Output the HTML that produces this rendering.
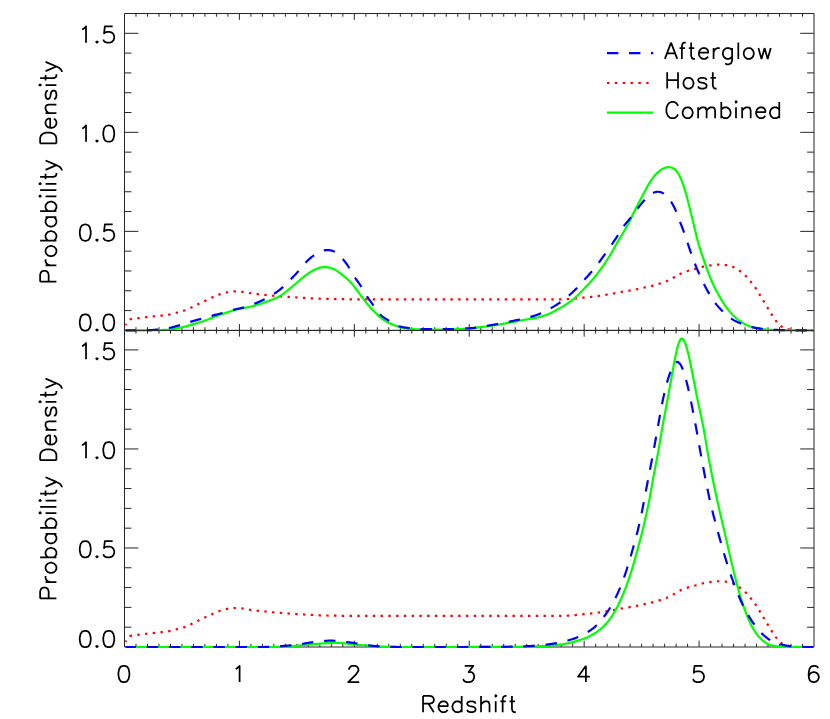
<!DOCTYPE html>
<html><head><meta charset="utf-8"><title>Redshift probability density</title>
<style>html,body{margin:0;padding:0;background:#fff;font-family:"Liberation Sans",sans-serif}svg{display:block}</style></head>
<body>
<svg width="830" height="719" viewBox="0 0 830 719">
<rect width="830" height="719" fill="#fff"/>
<path d="M124.5 13.5H814V330.4H124.5ZM135.99 13.5v3.2M135.99 330.4v-3.2M147.48 13.5v3.2M147.48 330.4v-3.2M158.97 13.5v3.2M158.97 330.4v-3.2M170.47 13.5v3.2M170.47 330.4v-3.2M181.96 13.5v3.2M181.96 330.4v-3.2M193.45 13.5v3.2M193.45 330.4v-3.2M204.94 13.5v3.2M204.94 330.4v-3.2M216.43 13.5v3.2M216.43 330.4v-3.2M227.93 13.5v3.2M227.93 330.4v-3.2M239.42 13.5v6.3M239.42 330.4v-6.3M250.91 13.5v3.2M250.91 330.4v-3.2M262.4 13.5v3.2M262.4 330.4v-3.2M273.89 13.5v3.2M273.89 330.4v-3.2M285.38 13.5v3.2M285.38 330.4v-3.2M296.88 13.5v3.2M296.88 330.4v-3.2M308.37 13.5v3.2M308.37 330.4v-3.2M319.86 13.5v3.2M319.86 330.4v-3.2M331.35 13.5v3.2M331.35 330.4v-3.2M342.84 13.5v3.2M342.84 330.4v-3.2M354.33 13.5v6.3M354.33 330.4v-6.3M365.83 13.5v3.2M365.83 330.4v-3.2M377.32 13.5v3.2M377.32 330.4v-3.2M388.81 13.5v3.2M388.81 330.4v-3.2M400.3 13.5v3.2M400.3 330.4v-3.2M411.79 13.5v3.2M411.79 330.4v-3.2M423.28 13.5v3.2M423.28 330.4v-3.2M434.78 13.5v3.2M434.78 330.4v-3.2M446.27 13.5v3.2M446.27 330.4v-3.2M457.76 13.5v3.2M457.76 330.4v-3.2M469.25 13.5v6.3M469.25 330.4v-6.3M480.74 13.5v3.2M480.74 330.4v-3.2M492.23 13.5v3.2M492.23 330.4v-3.2M503.73 13.5v3.2M503.73 330.4v-3.2M515.22 13.5v3.2M515.22 330.4v-3.2M526.71 13.5v3.2M526.71 330.4v-3.2M538.2 13.5v3.2M538.2 330.4v-3.2M549.69 13.5v3.2M549.69 330.4v-3.2M561.18 13.5v3.2M561.18 330.4v-3.2M572.67 13.5v3.2M572.67 330.4v-3.2M584.17 13.5v6.3M584.17 330.4v-6.3M595.66 13.5v3.2M595.66 330.4v-3.2M607.15 13.5v3.2M607.15 330.4v-3.2M618.64 13.5v3.2M618.64 330.4v-3.2M630.13 13.5v3.2M630.13 330.4v-3.2M641.62 13.5v3.2M641.62 330.4v-3.2M653.12 13.5v3.2M653.12 330.4v-3.2M664.61 13.5v3.2M664.61 330.4v-3.2M676.1 13.5v3.2M676.1 330.4v-3.2M687.59 13.5v3.2M687.59 330.4v-3.2M699.08 13.5v6.3M699.08 330.4v-6.3M710.57 13.5v3.2M710.57 330.4v-3.2M722.07 13.5v3.2M722.07 330.4v-3.2M733.56 13.5v3.2M733.56 330.4v-3.2M745.05 13.5v3.2M745.05 330.4v-3.2M756.54 13.5v3.2M756.54 330.4v-3.2M768.03 13.5v3.2M768.03 330.4v-3.2M779.53 13.5v3.2M779.53 330.4v-3.2M791.02 13.5v3.2M791.02 330.4v-3.2M802.51 13.5v3.2M802.51 330.4v-3.2M124.5 310.59h6.9M814 310.59h-6.9M124.5 290.79h6.9M814 290.79h-6.9M124.5 270.98h6.9M814 270.98h-6.9M124.5 251.17h6.9M814 251.17h-6.9M124.5 231.37h13.8M814 231.37h-13.8M124.5 211.56h6.9M814 211.56h-6.9M124.5 191.76h6.9M814 191.76h-6.9M124.5 171.95h6.9M814 171.95h-6.9M124.5 152.14h6.9M814 152.14h-6.9M124.5 132.34h13.8M814 132.34h-13.8M124.5 112.53h6.9M814 112.53h-6.9M124.5 92.73h6.9M814 92.73h-6.9M124.5 72.92h6.9M814 72.92h-6.9M124.5 53.11h6.9M814 53.11h-6.9M124.5 33.31h13.8M814 33.31h-13.8" fill="none" stroke="#262626" stroke-width="1.0" stroke-linecap="butt" stroke-linejoin="miter"/>
<path d="M125.65 325.12L126.51 324.07L127.37 322.87L128.23 321.65L129.1 320.53L129.96 319.65L130.82 319.14L131.68 318.95L132.54 318.78L133.41 318.64L134.27 318.52L135.13 318.44L135.99 318.36L136.85 318.28L137.72 318.2L138.58 318.1L139.44 318.01L140.3 317.9L141.16 317.79L142.02 317.67L142.89 317.56L143.75 317.45L144.61 317.34L145.47 317.23L146.33 317.13L147.2 317.04L148.06 316.94L148.92 316.86L149.78 316.77L150.64 316.68L151.51 316.6L152.37 316.51L153.23 316.43L154.09 316.34L154.95 316.26L155.81 316.17L156.68 316.08L157.54 316L158.4 315.91L159.26 315.82L160.12 315.72L160.99 315.63L161.85 315.54L162.71 315.44L163.57 315.34L164.43 315.24L165.3 315.14L166.16 315.03L167.02 314.91L167.88 314.79L168.74 314.64L169.6 314.48L170.47 314.31L171.33 314.11L172.19 313.89L173.05 313.66L173.91 313.42L174.78 313.18L175.64 312.94L176.5 312.7L177.36 312.47L178.22 312.25L179.09 312.03L179.95 311.81L180.81 311.59L181.67 311.36L182.53 311.12L183.39 310.86L184.26 310.57L185.12 310.27L185.98 309.94L186.84 309.58L187.7 309.21L188.57 308.82L189.43 308.42L190.29 308.01L191.15 307.6L192.01 307.18L192.88 306.75L193.74 306.32L194.6 305.89L195.46 305.45L196.32 305.01L197.18 304.58L198.05 304.15L198.91 303.73L199.77 303.32L200.63 302.91L201.49 302.51L202.36 302.11L203.22 301.71L204.08 301.31L204.94 300.9L205.8 300.48L206.67 300.06L207.53 299.64L208.39 299.21L209.25 298.78L210.11 298.36L210.97 297.94L211.84 297.54L212.7 297.14L213.56 296.76L214.42 296.38L215.28 296.02L216.15 295.66L217.01 295.32L217.87 294.99L218.73 294.67L219.59 294.37L220.46 294.08L221.32 293.8L222.18 293.53L223.04 293.27L223.9 293.04L224.76 292.82L225.63 292.61L226.49 292.43L227.35 292.26L228.21 292.1L229.07 291.96L229.94 291.82L230.8 291.7L231.66 291.6L232.52 291.51L233.38 291.45L234.25 291.41L235.11 291.39L235.97 291.4L236.83 291.42L237.69 291.45L238.55 291.5L239.42 291.56L240.28 291.62L241.14 291.69L242 291.78L242.86 291.89L243.73 292.02L244.59 292.16L245.45 292.32L246.31 292.49L247.17 292.67L248.04 292.84L248.9 293L249.76 293.15L250.62 293.28L251.48 293.41L252.34 293.52L253.21 293.63L254.07 293.73L254.93 293.84L255.79 293.93L256.65 294.03L257.52 294.12L258.38 294.21L259.24 294.3L260.1 294.39L260.96 294.47L261.83 294.56L262.69 294.64L263.55 294.72L264.41 294.81L265.27 294.89L266.13 294.98L267 295.07L267.86 295.17L268.72 295.26L269.58 295.36L270.44 295.45L271.31 295.55L272.17 295.63L273.03 295.72L273.89 295.8L274.75 295.88L275.62 295.95L276.48 296.02L277.34 296.09L278.2 296.16L279.06 296.23L279.92 296.29L280.79 296.36L281.65 296.42L282.51 296.48L283.37 296.55L284.23 296.61L285.1 296.67L285.96 296.73L286.82 296.79L287.68 296.85L288.54 296.91L289.41 296.97L290.27 297.03L291.13 297.09L291.99 297.14L292.85 297.2L293.71 297.26L294.58 297.32L295.44 297.37L296.3 297.43L297.16 297.48L298.02 297.54L298.89 297.59L299.75 297.65L300.61 297.7L301.47 297.75L302.33 297.8L303.2 297.85L304.06 297.9L304.92 297.95L305.78 298L306.64 298.05L307.5 298.1L308.37 298.15L309.23 298.2L310.09 298.25L310.95 298.3L311.81 298.35L312.68 298.39L313.54 298.44L314.4 298.48L315.26 298.52L316.12 298.56L316.99 298.6L317.85 298.64L318.71 298.67L319.57 298.7L320.43 298.73L321.29 298.76L322.16 298.78L323.02 298.81L323.88 298.83L324.74 298.85L325.6 298.87L326.47 298.9L327.33 298.92L328.19 298.94L329.05 298.96L329.91 298.98L330.78 298.99L331.64 299.01L332.5 299.03L333.36 299.04L334.22 299.06L335.08 299.07L335.95 299.09L336.81 299.1L337.67 299.12L338.53 299.13L339.39 299.14L340.26 299.16L341.12 299.17L341.98 299.18L342.84 299.2L343.7 299.21L344.57 299.22L345.43 299.23L346.29 299.25L347.15 299.26L348.01 299.27L348.87 299.28L349.74 299.28L350.6 299.29L351.46 299.29L352.32 299.3L353.18 299.3L354.05 299.3L354.91 299.3L355.77 299.3L356.63 299.3L357.49 299.3L358.36 299.3L359.22 299.3L360.08 299.3L360.94 299.3L361.8 299.3L362.66 299.3L363.53 299.3L364.39 299.3L365.25 299.3L366.11 299.3L366.97 299.3L367.84 299.3L368.7 299.3L369.56 299.3L370.42 299.3L371.28 299.3L372.15 299.3L373.01 299.3L373.87 299.3L374.73 299.3L375.59 299.3L376.45 299.3L377.32 299.3L378.18 299.3L379.04 299.3L379.9 299.3L380.76 299.3L381.63 299.3L382.49 299.3L383.35 299.3L384.21 299.3L385.07 299.3L385.94 299.3L386.8 299.3L387.66 299.3L388.52 299.3L389.38 299.3L390.24 299.3L391.11 299.3L391.97 299.3L392.83 299.3L393.69 299.3L394.55 299.3L395.42 299.3L396.28 299.3L397.14 299.3L398 299.3L398.86 299.3L399.73 299.3L400.59 299.3L401.45 299.3L402.31 299.3L403.17 299.3L404.03 299.3L404.9 299.3L405.76 299.3L406.62 299.3L407.48 299.3L408.34 299.3L409.21 299.3L410.07 299.3L410.93 299.3L411.79 299.3L412.65 299.3L413.52 299.3L414.38 299.3L415.24 299.3L416.1 299.3L416.96 299.3L417.82 299.3L418.69 299.3L419.55 299.3L420.41 299.3L421.27 299.3L422.13 299.3L423 299.3L423.86 299.3L424.72 299.3L425.58 299.3L426.44 299.3L427.31 299.3L428.17 299.3L429.03 299.3L429.89 299.3L430.75 299.3L431.61 299.3L432.48 299.3L433.34 299.3L434.2 299.3L435.06 299.3L435.92 299.3L436.79 299.3L437.65 299.3L438.51 299.3L439.37 299.3L440.23 299.3L441.1 299.3L441.96 299.3L442.82 299.3L443.68 299.3L444.54 299.3L445.4 299.3L446.27 299.3L447.13 299.3L447.99 299.3L448.85 299.3L449.71 299.3L450.58 299.3L451.44 299.3L452.3 299.3L453.16 299.3L454.02 299.3L454.89 299.3L455.75 299.3L456.61 299.3L457.47 299.3L458.33 299.3L459.19 299.3L460.06 299.3L460.92 299.3L461.78 299.3L462.64 299.3L463.5 299.3L464.37 299.3L465.23 299.3L466.09 299.3L466.95 299.3L467.81 299.3L468.68 299.3L469.54 299.3L470.4 299.3L471.26 299.3L472.12 299.3L472.98 299.3L473.85 299.3L474.71 299.3L475.57 299.3L476.43 299.3L477.29 299.3L478.16 299.3L479.02 299.3L479.88 299.3L480.74 299.3L481.6 299.3L482.47 299.3L483.33 299.3L484.19 299.3L485.05 299.3L485.91 299.3L486.77 299.3L487.64 299.3L488.5 299.3L489.36 299.3L490.22 299.3L491.08 299.3L491.95 299.3L492.81 299.3L493.67 299.3L494.53 299.3L495.39 299.3L496.26 299.3L497.12 299.3L497.98 299.3L498.84 299.3L499.7 299.3L500.56 299.3L501.43 299.3L502.29 299.3L503.15 299.3L504.01 299.3L504.87 299.3L505.74 299.3L506.6 299.3L507.46 299.3L508.32 299.3L509.18 299.3L510.05 299.3L510.91 299.3L511.77 299.3L512.63 299.3L513.49 299.3L514.35 299.3L515.22 299.3L516.08 299.3L516.94 299.3L517.8 299.3L518.66 299.3L519.53 299.3L520.39 299.3L521.25 299.3L522.11 299.3L522.97 299.3L523.84 299.3L524.7 299.3L525.56 299.3L526.42 299.3L527.28 299.3L528.14 299.3L529.01 299.3L529.87 299.3L530.73 299.3L531.59 299.3L532.45 299.3L533.32 299.3L534.18 299.3L535.04 299.3L535.9 299.3L536.76 299.3L537.63 299.3L538.49 299.3L539.35 299.3L540.21 299.3L541.07 299.3L541.93 299.3L542.8 299.3L543.66 299.3L544.52 299.3L545.38 299.3L546.24 299.3L547.11 299.3L547.97 299.3L548.83 299.3L549.69 299.3L550.55 299.3L551.42 299.3L552.28 299.3L553.14 299.3L554 299.3L554.86 299.3L555.72 299.31L556.59 299.31L557.45 299.31L558.31 299.31L559.17 299.31L560.03 299.31L560.9 299.3L561.76 299.3L562.62 299.28L563.48 299.26L564.34 299.23L565.21 299.2L566.07 299.16L566.93 299.11L567.79 299.05L568.65 299L569.51 298.94L570.38 298.88L571.24 298.82L572.1 298.75L572.96 298.69L573.82 298.61L574.69 298.54L575.55 298.45L576.41 298.36L577.27 298.27L578.13 298.17L579 298.07L579.86 297.98L580.72 297.88L581.58 297.79L582.44 297.7L583.3 297.61L584.17 297.53L585.03 297.45L585.89 297.38L586.75 297.3L587.61 297.23L588.48 297.15L589.34 297.07L590.2 296.99L591.06 296.9L591.92 296.8L592.79 296.7L593.65 296.59L594.51 296.48L595.37 296.37L596.23 296.25L597.09 296.13L597.96 296L598.82 295.88L599.68 295.75L600.54 295.62L601.4 295.49L602.27 295.35L603.13 295.21L603.99 295.08L604.85 294.94L605.71 294.8L606.58 294.66L607.44 294.52L608.3 294.38L609.16 294.24L610.02 294.1L610.88 293.96L611.75 293.81L612.61 293.66L613.47 293.5L614.33 293.33L615.19 293.16L616.06 292.98L616.92 292.8L617.78 292.62L618.64 292.43L619.5 292.25L620.37 292.08L621.23 291.92L622.09 291.77L622.95 291.63L623.81 291.49L624.67 291.37L625.54 291.24L626.4 291.12L627.26 290.99L628.12 290.86L628.98 290.72L629.85 290.58L630.71 290.43L631.57 290.27L632.43 290.11L633.29 289.95L634.16 289.78L635.02 289.61L635.88 289.43L636.74 289.25L637.6 289.06L638.46 288.87L639.33 288.68L640.19 288.48L641.05 288.27L641.91 288.07L642.77 287.87L643.64 287.68L644.5 287.48L645.36 287.3L646.22 287.12L647.08 286.94L647.95 286.77L648.81 286.59L649.67 286.41L650.53 286.22L651.39 286.02L652.25 285.81L653.12 285.58L653.98 285.35L654.84 285.11L655.7 284.86L656.56 284.6L657.43 284.34L658.29 284.07L659.15 283.8L660.01 283.53L660.87 283.25L661.74 282.97L662.6 282.69L663.46 282.4L664.32 282.09L665.18 281.77L666.04 281.43L666.91 281.07L667.77 280.69L668.63 280.29L669.49 279.87L670.35 279.44L671.22 278.99L672.08 278.53L672.94 278.05L673.8 277.57L674.66 277.07L675.53 276.56L676.39 276.05L677.25 275.54L678.11 275.04L678.97 274.55L679.83 274.1L680.7 273.67L681.56 273.26L682.42 272.88L683.28 272.53L684.14 272.19L685.01 271.86L685.87 271.56L686.73 271.27L687.59 270.99L688.45 270.73L689.32 270.48L690.18 270.24L691.04 270.02L691.9 269.8L692.76 269.57L693.62 269.34L694.49 269.11L695.35 268.86L696.21 268.61L697.07 268.34L697.93 268.07L698.8 267.8L699.66 267.54L700.52 267.3L701.38 267.06L702.24 266.85L703.11 266.65L703.97 266.47L704.83 266.3L705.69 266.14L706.55 265.99L707.41 265.85L708.28 265.71L709.14 265.58L710 265.46L710.86 265.34L711.72 265.22L712.59 265.1L713.45 264.99L714.31 264.89L715.17 264.8L716.03 264.73L716.9 264.69L717.76 264.66L718.62 264.65L719.48 264.66L720.34 264.69L721.2 264.73L722.07 264.77L722.93 264.83L723.79 264.89L724.65 264.96L725.51 265.06L726.38 265.17L727.24 265.3L728.1 265.46L728.96 265.64L729.82 265.86L730.69 266.1L731.55 266.36L732.41 266.66L733.27 267.01L734.13 267.39L734.99 267.83L735.86 268.32L736.72 268.84L737.58 269.4L738.44 269.98L739.3 270.59L740.17 271.21L741.03 271.85L741.89 272.52L742.75 273.22L743.61 273.95L744.48 274.73L745.34 275.55L746.2 276.43L747.06 277.36L747.92 278.33L748.78 279.33L749.65 280.36L750.51 281.39L751.37 282.42L752.23 283.46L753.09 284.53L753.96 285.63L754.82 286.8L755.68 288.03L756.54 289.35L757.4 290.73L758.27 292.16L759.13 293.61L759.99 295.08L760.85 296.55L761.71 298L762.57 299.44L763.44 300.87L764.3 302.29L765.16 303.7L766.02 305.12L766.88 306.54L767.75 307.97L768.61 309.41L769.47 310.85L770.33 312.29L771.19 313.7L772.06 315.09L772.92 316.43L773.78 317.73L774.64 318.98L775.5 320.19L776.36 321.33L777.23 322.42L778.09 323.45L778.95 324.39L779.81 325.23L780.67 325.97L781.54 326.6L782.4 327.12L783.26 327.57L784.12 327.94L784.98 328.27L785.85 328.55L786.71 328.8L787.57 329.03L788.43 329.25L789.29 329.44L790.15 329.62L791.02 329.78L791.88 329.92L792.74 330.03L793.6 330.12L794.46 330.19L795.33 330.25L796.19 330.28L797.05 330.31L797.91 330.34L798.77 330.36L799.64 330.37L800.5 330.38L801.36 330.39L802.22 330.4L803.08 330.4L803.94 330.4L804.81 330.4L805.67 330.4L806.53 330.4L807.39 330.4L808.25 330.4L809.12 330.4L809.98 330.4L810.84 330.4L811.7 330.4L812.56 330.4L813.43 330.4L814 330.4" fill="none" stroke="#ff0000" stroke-width="2.2" stroke-dasharray="2.4 5.36" stroke-dashoffset="1" stroke-linejoin="round"/>
<path d="M125.65 330.4L126.51 330.4L127.37 330.4L128.23 330.4L129.1 330.4L129.96 330.4L130.82 330.4L131.68 330.39L132.54 330.39L133.41 330.39L134.27 330.39L135.13 330.39L135.99 330.38L136.85 330.38L137.72 330.38L138.58 330.38L139.44 330.37L140.3 330.37L141.16 330.37L142.02 330.37L142.89 330.36L143.75 330.36L144.61 330.36L145.47 330.35L146.33 330.35L147.2 330.34L148.06 330.34L148.92 330.33L149.78 330.32L150.64 330.31L151.51 330.29L152.37 330.28L153.23 330.26L154.09 330.24L154.95 330.22L155.81 330.19L156.68 330.17L157.54 330.15L158.4 330.12L159.26 330.09L160.12 330.07L160.99 330.03L161.85 330L162.71 329.96L163.57 329.92L164.43 329.88L165.3 329.84L166.16 329.79L167.02 329.73L167.88 329.68L168.74 329.61L169.6 329.54L170.47 329.46L171.33 329.37L172.19 329.26L173.05 329.14L173.91 329L174.78 328.86L175.64 328.7L176.5 328.53L177.36 328.35L178.22 328.17L179.09 327.99L179.95 327.8L180.81 327.61L181.67 327.42L182.53 327.22L183.39 327.01L184.26 326.79L185.12 326.57L185.98 326.34L186.84 326.1L187.7 325.85L188.57 325.6L189.43 325.35L190.29 325.09L191.15 324.84L192.01 324.58L192.88 324.33L193.74 324.08L194.6 323.83L195.46 323.58L196.32 323.32L197.18 323.07L198.05 322.81L198.91 322.55L199.77 322.29L200.63 322.02L201.49 321.75L202.36 321.48L203.22 321.2L204.08 320.91L204.94 320.61L205.8 320.3L206.67 319.99L207.53 319.66L208.39 319.33L209.25 318.99L210.11 318.64L210.97 318.3L211.84 317.95L212.7 317.61L213.56 317.26L214.42 316.93L215.28 316.59L216.15 316.27L217.01 315.94L217.87 315.63L218.73 315.31L219.59 315L220.46 314.69L221.32 314.38L222.18 314.08L223.04 313.77L223.9 313.48L224.76 313.18L225.63 312.89L226.49 312.61L227.35 312.33L228.21 312.05L229.07 311.77L229.94 311.5L230.8 311.23L231.66 310.96L232.52 310.69L233.38 310.43L234.25 310.17L235.11 309.92L235.97 309.68L236.83 309.45L237.69 309.23L238.55 309.02L239.42 308.82L240.28 308.64L241.14 308.46L242 308.3L242.86 308.15L243.73 308.01L244.59 307.86L245.45 307.72L246.31 307.58L247.17 307.43L248.04 307.27L248.9 307.1L249.76 306.91L250.62 306.72L251.48 306.51L252.34 306.29L253.21 306.06L254.07 305.82L254.93 305.57L255.79 305.31L256.65 305.05L257.52 304.77L258.38 304.5L259.24 304.21L260.1 303.93L260.96 303.64L261.83 303.34L262.69 303.05L263.55 302.75L264.41 302.46L265.27 302.16L266.13 301.86L267 301.57L267.86 301.26L268.72 300.96L269.58 300.65L270.44 300.33L271.31 300L272.17 299.67L273.03 299.32L273.89 298.97L274.75 298.6L275.62 298.21L276.48 297.81L277.34 297.39L278.2 296.95L279.06 296.48L279.92 295.98L280.79 295.44L281.65 294.88L282.51 294.29L283.37 293.67L284.23 293.03L285.1 292.37L285.96 291.7L286.82 291.01L287.68 290.32L288.54 289.62L289.41 288.92L290.27 288.22L291.13 287.53L291.99 286.83L292.85 286.14L293.71 285.44L294.58 284.73L295.44 284L296.3 283.27L297.16 282.52L298.02 281.77L298.89 281.01L299.75 280.25L300.61 279.5L301.47 278.76L302.33 278.02L303.2 277.31L304.06 276.61L304.92 275.94L305.78 275.28L306.64 274.65L307.5 274.04L308.37 273.44L309.23 272.86L310.09 272.29L310.95 271.73L311.81 271.21L312.68 270.71L313.54 270.25L314.4 269.82L315.26 269.44L316.12 269.08L316.99 268.75L317.85 268.45L318.71 268.16L319.57 267.89L320.43 267.64L321.29 267.43L322.16 267.26L323.02 267.14L323.88 267.07L324.74 267.05L325.6 267.08L326.47 267.15L327.33 267.27L328.19 267.43L329.05 267.61L329.91 267.81L330.78 268.04L331.64 268.29L332.5 268.57L333.36 268.88L334.22 269.24L335.08 269.66L335.95 270.14L336.81 270.68L337.67 271.27L338.53 271.9L339.39 272.56L340.26 273.25L341.12 273.94L341.98 274.64L342.84 275.33L343.7 276.03L344.57 276.73L345.43 277.44L346.29 278.16L347.15 278.91L348.01 279.7L348.87 280.52L349.74 281.39L350.6 282.3L351.46 283.26L352.32 284.27L353.18 285.33L354.05 286.41L354.91 287.52L355.77 288.65L356.63 289.78L357.49 290.92L358.36 292.07L359.22 293.22L360.08 294.38L360.94 295.55L361.8 296.73L362.66 297.91L363.53 299.08L364.39 300.24L365.25 301.37L366.11 302.48L366.97 303.56L367.84 304.61L368.7 305.63L369.56 306.62L370.42 307.6L371.28 308.55L372.15 309.48L373.01 310.39L373.87 311.27L374.73 312.14L375.59 312.98L376.45 313.81L377.32 314.62L378.18 315.41L379.04 316.19L379.9 316.95L380.76 317.68L381.63 318.38L382.49 319.04L383.35 319.67L384.21 320.26L385.07 320.81L385.94 321.34L386.8 321.83L387.66 322.3L388.52 322.75L389.38 323.17L390.24 323.58L391.11 323.96L391.97 324.33L392.83 324.68L393.69 325.01L394.55 325.33L395.42 325.63L396.28 325.92L397.14 326.19L398 326.46L398.86 326.71L399.73 326.94L400.59 327.16L401.45 327.37L402.31 327.56L403.17 327.75L404.03 327.92L404.9 328.09L405.76 328.25L406.62 328.39L407.48 328.53L408.34 328.65L409.21 328.76L410.07 328.86L410.93 328.94L411.79 329.01L412.65 329.08L413.52 329.14L414.38 329.19L415.24 329.25L416.1 329.3L416.96 329.34L417.82 329.38L418.69 329.42L419.55 329.45L420.41 329.47L421.27 329.49L422.13 329.51L423 329.52L423.86 329.53L424.72 329.54L425.58 329.54L426.44 329.55L427.31 329.56L428.17 329.56L429.03 329.57L429.89 329.57L430.75 329.58L431.61 329.58L432.48 329.59L433.34 329.59L434.2 329.6L435.06 329.6L435.92 329.6L436.79 329.6L437.65 329.61L438.51 329.61L439.37 329.61L440.23 329.61L441.1 329.61L441.96 329.6L442.82 329.6L443.68 329.59L444.54 329.58L445.4 329.57L446.27 329.55L447.13 329.53L447.99 329.51L448.85 329.49L449.71 329.47L450.58 329.44L451.44 329.41L452.3 329.38L453.16 329.35L454.02 329.32L454.89 329.29L455.75 329.25L456.61 329.22L457.47 329.18L458.33 329.14L459.19 329.1L460.06 329.06L460.92 329.02L461.78 328.98L462.64 328.93L463.5 328.89L464.37 328.84L465.23 328.79L466.09 328.74L466.95 328.68L467.81 328.61L468.68 328.53L469.54 328.45L470.4 328.36L471.26 328.27L472.12 328.17L472.98 328.07L473.85 327.96L474.71 327.86L475.57 327.75L476.43 327.64L477.29 327.54L478.16 327.44L479.02 327.33L479.88 327.23L480.74 327.13L481.6 327.03L482.47 326.93L483.33 326.83L484.19 326.72L485.05 326.62L485.91 326.51L486.77 326.41L487.64 326.3L488.5 326.19L489.36 326.08L490.22 325.96L491.08 325.84L491.95 325.72L492.81 325.6L493.67 325.47L494.53 325.34L495.39 325.21L496.26 325.07L497.12 324.93L497.98 324.78L498.84 324.63L499.7 324.48L500.56 324.32L501.43 324.16L502.29 324L503.15 323.84L504.01 323.68L504.87 323.52L505.74 323.36L506.6 323.2L507.46 323.04L508.32 322.87L509.18 322.71L510.05 322.55L510.91 322.39L511.77 322.22L512.63 322.06L513.49 321.89L514.35 321.72L515.22 321.55L516.08 321.39L516.94 321.22L517.8 321.05L518.66 320.88L519.53 320.72L520.39 320.55L521.25 320.39L522.11 320.23L522.97 320.07L523.84 319.92L524.7 319.77L525.56 319.62L526.42 319.48L527.28 319.34L528.14 319.2L529.01 319.06L529.87 318.91L530.73 318.77L531.59 318.63L532.45 318.48L533.32 318.32L534.18 318.16L535.04 318L535.9 317.82L536.76 317.64L537.63 317.45L538.49 317.25L539.35 317.03L540.21 316.81L541.07 316.58L541.93 316.34L542.8 316.09L543.66 315.83L544.52 315.56L545.38 315.27L546.24 314.97L547.11 314.66L547.97 314.32L548.83 313.96L549.69 313.58L550.55 313.18L551.42 312.76L552.28 312.32L553.14 311.87L554 311.41L554.86 310.94L555.72 310.47L556.59 310L557.45 309.53L558.31 309.05L559.17 308.58L560.03 308.1L560.9 307.62L561.76 307.12L562.62 306.62L563.48 306.11L564.34 305.58L565.21 305.04L566.07 304.49L566.93 303.92L567.79 303.34L568.65 302.74L569.51 302.12L570.38 301.49L571.24 300.84L572.1 300.17L572.96 299.49L573.82 298.79L574.69 298.06L575.55 297.3L576.41 296.53L577.27 295.72L578.13 294.89L579 294.04L579.86 293.17L580.72 292.28L581.58 291.39L582.44 290.48L583.3 289.58L584.17 288.67L585.03 287.77L585.89 286.87L586.75 285.97L587.61 285.06L588.48 284.16L589.34 283.24L590.2 282.31L591.06 281.37L591.92 280.4L592.79 279.42L593.65 278.41L594.51 277.37L595.37 276.31L596.23 275.22L597.09 274.11L597.96 272.98L598.82 271.83L599.68 270.66L600.54 269.47L601.4 268.26L602.27 267.03L603.13 265.79L603.99 264.53L604.85 263.26L605.71 261.97L606.58 260.67L607.44 259.35L608.3 258.01L609.16 256.64L610.02 255.25L610.88 253.82L611.75 252.36L612.61 250.86L613.47 249.33L614.33 247.78L615.19 246.22L616.06 244.67L616.92 243.14L617.78 241.65L618.64 240.21L619.5 238.81L620.37 237.44L621.23 236.07L622.09 234.67L622.95 233.23L623.81 231.75L624.67 230.22L625.54 228.66L626.4 227.06L627.26 225.44L628.12 223.79L628.98 222.13L629.85 220.44L630.71 218.73L631.57 217L632.43 215.26L633.29 213.51L634.16 211.77L635.02 210.05L635.88 208.33L636.74 206.64L637.6 204.97L638.46 203.31L639.33 201.67L640.19 200.04L641.05 198.41L641.91 196.79L642.77 195.17L643.64 193.55L644.5 191.92L645.36 190.28L646.22 188.66L647.08 187.07L647.95 185.52L648.81 184.03L649.67 182.61L650.53 181.26L651.39 179.99L652.25 178.78L653.12 177.64L653.98 176.56L654.84 175.53L655.7 174.57L656.56 173.66L657.43 172.81L658.29 172.01L659.15 171.27L660.01 170.58L660.87 169.95L661.74 169.39L662.6 168.89L663.46 168.45L664.32 168.08L665.18 167.76L666.04 167.5L666.91 167.31L667.77 167.18L668.63 167.13L669.49 167.17L670.35 167.28L671.22 167.48L672.08 167.76L672.94 168.12L673.8 168.6L674.66 169.21L675.53 169.96L676.39 170.89L677.25 171.99L678.11 173.28L678.97 174.77L679.83 176.45L680.7 178.32L681.56 180.37L682.42 182.6L683.28 184.98L684.14 187.54L685.01 190.26L685.87 193.17L686.73 196.27L687.59 199.52L688.45 202.92L689.32 206.4L690.18 209.92L691.04 213.44L691.9 216.94L692.76 220.46L693.62 224.03L694.49 227.66L695.35 231.34L696.21 234.99L697.07 238.5L697.93 241.8L698.8 244.83L699.66 247.62L700.52 250.25L701.38 252.79L702.24 255.3L703.11 257.81L703.97 260.33L704.83 262.85L705.69 265.35L706.55 267.8L707.41 270.2L708.28 272.52L709.14 274.77L710 276.93L710.86 279.01L711.72 281.02L712.59 282.96L713.45 284.84L714.31 286.67L715.17 288.44L716.03 290.16L716.9 291.82L717.76 293.44L718.62 295.01L719.48 296.53L720.34 298.01L721.2 299.44L722.07 300.83L722.93 302.19L723.79 303.5L724.65 304.77L725.51 306.01L726.38 307.22L727.24 308.39L728.1 309.52L728.96 310.6L729.82 311.65L730.69 312.65L731.55 313.6L732.41 314.52L733.27 315.4L734.13 316.25L734.99 317.06L735.86 317.83L736.72 318.57L737.58 319.27L738.44 319.95L739.3 320.59L740.17 321.2L741.03 321.79L741.89 322.35L742.75 322.88L743.61 323.39L744.48 323.86L745.34 324.31L746.2 324.74L747.06 325.14L747.92 325.53L748.78 325.89L749.65 326.23L750.51 326.54L751.37 326.83L752.23 327.1L753.09 327.35L753.96 327.58L754.82 327.79L755.68 327.98L756.54 328.16L757.4 328.33L758.27 328.49L759.13 328.64L759.99 328.78L760.85 328.91L761.71 329.03L762.57 329.14L763.44 329.25L764.3 329.35L765.16 329.44L766.02 329.53L766.88 329.61L767.75 329.68L768.61 329.75L769.47 329.81L770.33 329.86L771.19 329.92L772.06 329.96L772.92 330.01L773.78 330.05L774.64 330.09L775.5 330.13L776.36 330.17L777.23 330.21L778.09 330.25L778.95 330.28L779.81 330.31L780.67 330.33L781.54 330.35L782.4 330.37L783.26 330.38L784.12 330.39L784.98 330.4L785.85 330.4L786.71 330.4L787.57 330.4L788.43 330.4L789.29 330.4L790.15 330.4L791.02 330.4L791.88 330.4L792.74 330.4L793.6 330.4L794.46 330.4L795.33 330.4L796.19 330.4L797.05 330.4L797.91 330.4L798.77 330.4L799.64 330.4L800.5 330.4L801.36 330.4L802.22 330.4L803.08 330.4L803.94 330.4L804.81 330.4L805.67 330.4L806.53 330.4L807.39 330.4L808.25 330.4L809.12 330.4L809.98 330.4L810.84 330.4L811.7 330.4L812.56 330.4L813.43 330.4L814 330.4" fill="none" stroke="#00ff00" stroke-width="2.2" stroke-linejoin="round"/>
<path d="M125.65 330.4L126.51 330.4L127.37 330.4L128.23 330.39L129.1 330.39L129.96 330.39L130.82 330.38L131.68 330.38L132.54 330.37L133.41 330.37L134.27 330.36L135.13 330.36L135.99 330.35L136.85 330.34L137.72 330.33L138.58 330.32L139.44 330.31L140.3 330.3L141.16 330.29L142.02 330.28L142.89 330.27L143.75 330.26L144.61 330.25L145.47 330.24L146.33 330.22L147.2 330.21L148.06 330.19L148.92 330.16L149.78 330.12L150.64 330.08L151.51 330.03L152.37 329.98L153.23 329.92L154.09 329.85L154.95 329.78L155.81 329.7L156.68 329.63L157.54 329.55L158.4 329.47L159.26 329.38L160.12 329.29L160.99 329.2L161.85 329.1L162.71 328.99L163.57 328.88L164.43 328.76L165.3 328.63L166.16 328.5L167.02 328.36L167.88 328.21L168.74 328.06L169.6 327.9L170.47 327.73L171.33 327.54L172.19 327.34L173.05 327.13L173.91 326.91L174.78 326.67L175.64 326.43L176.5 326.18L177.36 325.93L178.22 325.68L179.09 325.42L179.95 325.17L180.81 324.91L181.67 324.64L182.53 324.37L183.39 324.1L184.26 323.82L185.12 323.54L185.98 323.26L186.84 322.98L187.7 322.69L188.57 322.41L189.43 322.14L190.29 321.87L191.15 321.6L192.01 321.34L192.88 321.09L193.74 320.85L194.6 320.6L195.46 320.37L196.32 320.13L197.18 319.9L198.05 319.66L198.91 319.43L199.77 319.19L200.63 318.96L201.49 318.72L202.36 318.48L203.22 318.24L204.08 318L204.94 317.76L205.8 317.51L206.67 317.27L207.53 317.03L208.39 316.79L209.25 316.55L210.11 316.31L210.97 316.07L211.84 315.83L212.7 315.59L213.56 315.36L214.42 315.13L215.28 314.9L216.15 314.67L217.01 314.44L217.87 314.21L218.73 313.99L219.59 313.76L220.46 313.53L221.32 313.3L222.18 313.06L223.04 312.82L223.9 312.58L224.76 312.34L225.63 312.09L226.49 311.84L227.35 311.59L228.21 311.34L229.07 311.09L229.94 310.84L230.8 310.6L231.66 310.36L232.52 310.12L233.38 309.89L234.25 309.67L235.11 309.46L235.97 309.25L236.83 309.05L237.69 308.86L238.55 308.67L239.42 308.48L240.28 308.29L241.14 308.09L242 307.89L242.86 307.68L243.73 307.45L244.59 307.21L245.45 306.96L246.31 306.7L247.17 306.43L248.04 306.15L248.9 305.86L249.76 305.56L250.62 305.25L251.48 304.93L252.34 304.61L253.21 304.28L254.07 303.94L254.93 303.6L255.79 303.24L256.65 302.88L257.52 302.51L258.38 302.14L259.24 301.76L260.1 301.37L260.96 300.97L261.83 300.57L262.69 300.16L263.55 299.73L264.41 299.3L265.27 298.86L266.13 298.41L267 297.95L267.86 297.47L268.72 296.99L269.58 296.5L270.44 295.99L271.31 295.48L272.17 294.95L273.03 294.42L273.89 293.87L274.75 293.31L275.62 292.73L276.48 292.15L277.34 291.55L278.2 290.92L279.06 290.28L279.92 289.61L280.79 288.91L281.65 288.19L282.51 287.44L283.37 286.66L284.23 285.86L285.1 285.04L285.96 284.2L286.82 283.35L287.68 282.48L288.54 281.6L289.41 280.72L290.27 279.82L291.13 278.93L291.99 278.03L292.85 277.13L293.71 276.24L294.58 275.33L295.44 274.42L296.3 273.5L297.16 272.55L298.02 271.58L298.89 270.58L299.75 269.57L300.61 268.53L301.47 267.49L302.33 266.45L303.2 265.42L304.06 264.4L304.92 263.41L305.78 262.45L306.64 261.53L307.5 260.65L308.37 259.83L309.23 259.05L310.09 258.31L310.95 257.61L311.81 256.94L312.68 256.29L313.54 255.65L314.4 255.04L315.26 254.45L316.12 253.88L316.99 253.35L317.85 252.86L318.71 252.41L319.57 251.99L320.43 251.63L321.29 251.3L322.16 251.01L323.02 250.74L323.88 250.52L324.74 250.32L325.6 250.17L326.47 250.07L327.33 250.03L328.19 250.04L329.05 250.12L329.91 250.26L330.78 250.44L331.64 250.66L332.5 250.92L333.36 251.22L334.22 251.57L335.08 251.97L335.95 252.44L336.81 253L337.67 253.64L338.53 254.38L339.39 255.19L340.26 256.08L341.12 257.03L341.98 258.02L342.84 259.05L343.7 260.11L344.57 261.2L345.43 262.32L346.29 263.49L347.15 264.71L348.01 266L348.87 267.37L349.74 268.79L350.6 270.27L351.46 271.76L352.32 273.25L353.18 274.71L354.05 276.12L354.91 277.47L355.77 278.76L356.63 280L357.49 281.21L358.36 282.41L359.22 283.63L360.08 284.9L360.94 286.21L361.8 287.59L362.66 289.03L363.53 290.5L364.39 291.99L365.25 293.46L366.11 294.9L366.97 296.28L367.84 297.61L368.7 298.87L369.56 300.1L370.42 301.29L371.28 302.47L372.15 303.66L373.01 304.86L373.87 306.09L374.73 307.35L375.59 308.62L376.45 309.87L377.32 311.09L378.18 312.24L379.04 313.3L379.9 314.26L380.76 315.11L381.63 315.88L382.49 316.56L383.35 317.19L384.21 317.77L385.07 318.32L385.94 318.86L386.8 319.39L387.66 319.92L388.52 320.46L389.38 321.01L390.24 321.57L391.11 322.13L391.97 322.7L392.83 323.26L393.69 323.8L394.55 324.31L395.42 324.78L396.28 325.22L397.14 325.6L398 325.94L398.86 326.23L399.73 326.48L400.59 326.69L401.45 326.88L402.31 327.05L403.17 327.21L404.03 327.36L404.9 327.5L405.76 327.63L406.62 327.75L407.48 327.86L408.34 327.97L409.21 328.07L410.07 328.16L410.93 328.26L411.79 328.34L412.65 328.43L413.52 328.52L414.38 328.6L415.24 328.68L416.1 328.75L416.96 328.82L417.82 328.88L418.69 328.93L419.55 328.98L420.41 329.02L421.27 329.05L422.13 329.07L423 329.09L423.86 329.1L424.72 329.11L425.58 329.12L426.44 329.13L427.31 329.14L428.17 329.15L429.03 329.16L429.89 329.16L430.75 329.17L431.61 329.18L432.48 329.18L433.34 329.19L434.2 329.19L435.06 329.2L435.92 329.2L436.79 329.21L437.65 329.21L438.51 329.21L439.37 329.21L440.23 329.21L441.1 329.21L441.96 329.21L442.82 329.2L443.68 329.2L444.54 329.19L445.4 329.18L446.27 329.16L447.13 329.15L447.99 329.13L448.85 329.11L449.71 329.09L450.58 329.07L451.44 329.05L452.3 329.02L453.16 328.99L454.02 328.97L454.89 328.94L455.75 328.9L456.61 328.87L457.47 328.84L458.33 328.8L459.19 328.77L460.06 328.73L460.92 328.69L461.78 328.65L462.64 328.61L463.5 328.56L464.37 328.52L465.23 328.48L466.09 328.43L466.95 328.39L467.81 328.34L468.68 328.3L469.54 328.25L470.4 328.19L471.26 328.13L472.12 328.06L472.98 327.98L473.85 327.9L474.71 327.8L475.57 327.7L476.43 327.59L477.29 327.47L478.16 327.35L479.02 327.22L479.88 327.09L480.74 326.95L481.6 326.81L482.47 326.67L483.33 326.52L484.19 326.37L485.05 326.22L485.91 326.06L486.77 325.91L487.64 325.76L488.5 325.6L489.36 325.45L490.22 325.3L491.08 325.15L491.95 325L492.81 324.86L493.67 324.71L494.53 324.56L495.39 324.41L496.26 324.26L497.12 324.1L497.98 323.94L498.84 323.79L499.7 323.63L500.56 323.46L501.43 323.3L502.29 323.13L503.15 322.96L504.01 322.79L504.87 322.62L505.74 322.45L506.6 322.27L507.46 322.1L508.32 321.92L509.18 321.74L510.05 321.56L510.91 321.38L511.77 321.19L512.63 321.01L513.49 320.82L514.35 320.63L515.22 320.45L516.08 320.26L516.94 320.08L517.8 319.89L518.66 319.7L519.53 319.52L520.39 319.33L521.25 319.14L522.11 318.95L522.97 318.76L523.84 318.56L524.7 318.36L525.56 318.16L526.42 317.95L527.28 317.74L528.14 317.52L529.01 317.3L529.87 317.07L530.73 316.84L531.59 316.6L532.45 316.35L533.32 316.09L534.18 315.83L535.04 315.55L535.9 315.26L536.76 314.96L537.63 314.64L538.49 314.31L539.35 313.95L540.21 313.58L541.07 313.2L541.93 312.8L542.8 312.38L543.66 311.96L544.52 311.52L545.38 311.08L546.24 310.63L547.11 310.17L547.97 309.71L548.83 309.24L549.69 308.77L550.55 308.29L551.42 307.82L552.28 307.34L553.14 306.85L554 306.35L554.86 305.84L555.72 305.32L556.59 304.79L557.45 304.24L558.31 303.68L559.17 303.1L560.03 302.51L560.9 301.91L561.76 301.29L562.62 300.65L563.48 300L564.34 299.33L565.21 298.65L566.07 297.95L566.93 297.24L567.79 296.52L568.65 295.78L569.51 295.03L570.38 294.27L571.24 293.5L572.1 292.71L572.96 291.9L573.82 291.07L574.69 290.23L575.55 289.36L576.41 288.47L577.27 287.57L578.13 286.65L579 285.72L579.86 284.77L580.72 283.82L581.58 282.87L582.44 281.91L583.3 280.95L584.17 280L585.03 279.05L585.89 278.1L586.75 277.15L587.61 276.2L588.48 275.25L589.34 274.29L590.2 273.32L591.06 272.35L591.92 271.35L592.79 270.34L593.65 269.31L594.51 268.25L595.37 267.18L596.23 266.08L597.09 264.95L597.96 263.81L598.82 262.65L599.68 261.48L600.54 260.3L601.4 259.11L602.27 257.92L603.13 256.73L603.99 255.53L604.85 254.33L605.71 253.12L606.58 251.91L607.44 250.69L608.3 249.47L609.16 248.24L610.02 247L610.88 245.76L611.75 244.51L612.61 243.25L613.47 241.98L614.33 240.71L615.19 239.42L616.06 238.12L616.92 236.79L617.78 235.44L618.64 234.08L619.5 232.69L620.37 231.31L621.23 229.94L622.09 228.61L622.95 227.32L623.81 226.1L624.67 224.94L625.54 223.84L626.4 222.79L627.26 221.76L628.12 220.74L628.98 219.72L629.85 218.68L630.71 217.62L631.57 216.53L632.43 215.42L633.29 214.29L634.16 213.15L635.02 212L635.88 210.86L636.74 209.71L637.6 208.57L638.46 207.43L639.33 206.3L640.19 205.18L641.05 204.08L641.91 203.01L642.77 201.98L643.64 201L644.5 200.05L645.36 199.14L646.22 198.26L647.08 197.41L647.95 196.59L648.81 195.82L649.67 195.11L650.53 194.47L651.39 193.9L652.25 193.4L653.12 192.96L653.98 192.59L654.84 192.28L655.7 192.03L656.56 191.86L657.43 191.77L658.29 191.76L659.15 191.85L660.01 192.02L660.87 192.27L661.74 192.59L662.6 192.99L663.46 193.47L664.32 194.05L665.18 194.73L666.04 195.52L666.91 196.4L667.77 197.36L668.63 198.41L669.49 199.52L670.35 200.7L671.22 201.97L672.08 203.33L672.94 204.82L673.8 206.45L674.66 208.22L675.53 210.16L676.39 212.24L677.25 214.45L678.11 216.73L678.97 219.03L679.83 221.31L680.7 223.56L681.56 225.77L682.42 228L683.28 230.28L684.14 232.65L685.01 235.12L685.87 237.67L686.73 240.27L687.59 242.9L688.45 245.51L689.32 248.09L690.18 250.64L691.04 253.15L691.9 255.62L692.76 258.03L693.62 260.39L694.49 262.67L695.35 264.87L696.21 266.99L697.07 269.05L697.93 271.05L698.8 273.01L699.66 274.94L700.52 276.85L701.38 278.73L702.24 280.58L703.11 282.39L703.97 284.14L704.83 285.84L705.69 287.48L706.55 289.07L707.41 290.61L708.28 292.12L709.14 293.6L710 295.05L710.86 296.47L711.72 297.85L712.59 299.19L713.45 300.49L714.31 301.73L715.17 302.93L716.03 304.06L716.9 305.14L717.76 306.16L718.62 307.14L719.48 308.09L720.34 309L721.2 309.89L722.07 310.76L722.93 311.61L723.79 312.44L724.65 313.25L725.51 314.04L726.38 314.8L727.24 315.54L728.1 316.25L728.96 316.93L729.82 317.58L730.69 318.2L731.55 318.79L732.41 319.35L733.27 319.87L734.13 320.36L734.99 320.82L735.86 321.26L736.72 321.68L737.58 322.07L738.44 322.46L739.3 322.83L740.17 323.19L741.03 323.55L741.89 323.89L742.75 324.22L743.61 324.54L744.48 324.86L745.34 325.16L746.2 325.45L747.06 325.72L747.92 325.99L748.78 326.24L749.65 326.49L750.51 326.72L751.37 326.94L752.23 327.14L753.09 327.34L753.96 327.52L754.82 327.69L755.68 327.85L756.54 328.01L757.4 328.15L758.27 328.29L759.13 328.42L759.99 328.55L760.85 328.67L761.71 328.78L762.57 328.89L763.44 328.99L764.3 329.08L765.16 329.17L766.02 329.25L766.88 329.32L767.75 329.39L768.61 329.45L769.47 329.51L770.33 329.57L771.19 329.62L772.06 329.67L772.92 329.72L773.78 329.77L774.64 329.81L775.5 329.86L776.36 329.9L777.23 329.94L778.09 329.98L778.95 330.02L779.81 330.05L780.67 330.08L781.54 330.11L782.4 330.13L783.26 330.16L784.12 330.18L784.98 330.2L785.85 330.21L786.71 330.23L787.57 330.24L788.43 330.26L789.29 330.27L790.15 330.29L791.02 330.3L791.88 330.31L792.74 330.33L793.6 330.34L794.46 330.35L795.33 330.36L796.19 330.37L797.05 330.37L797.91 330.38L798.77 330.39L799.64 330.39L800.5 330.4L801.36 330.4L802.22 330.4L803.08 330.4L803.94 330.4L804.81 330.4L805.67 330.4L806.53 330.4L807.39 330.4L808.25 330.4L809.12 330.4L809.98 330.4L810.84 330.4L811.7 330.4L812.56 330.4L813.43 330.4L814 330.4" fill="none" stroke="#0000ff" stroke-width="2.2" stroke-dasharray="11.4 10.8" stroke-dashoffset="1" stroke-linejoin="round"/>
<path d="M124.5 330.4H814V647H124.5ZM135.99 330.4v3.2M135.99 647v-3.2M147.48 330.4v3.2M147.48 647v-3.2M158.97 330.4v3.2M158.97 647v-3.2M170.47 330.4v3.2M170.47 647v-3.2M181.96 330.4v3.2M181.96 647v-3.2M193.45 330.4v3.2M193.45 647v-3.2M204.94 330.4v3.2M204.94 647v-3.2M216.43 330.4v3.2M216.43 647v-3.2M227.93 330.4v3.2M227.93 647v-3.2M239.42 330.4v6.3M239.42 647v-6.3M250.91 330.4v3.2M250.91 647v-3.2M262.4 330.4v3.2M262.4 647v-3.2M273.89 330.4v3.2M273.89 647v-3.2M285.38 330.4v3.2M285.38 647v-3.2M296.88 330.4v3.2M296.88 647v-3.2M308.37 330.4v3.2M308.37 647v-3.2M319.86 330.4v3.2M319.86 647v-3.2M331.35 330.4v3.2M331.35 647v-3.2M342.84 330.4v3.2M342.84 647v-3.2M354.33 330.4v6.3M354.33 647v-6.3M365.83 330.4v3.2M365.83 647v-3.2M377.32 330.4v3.2M377.32 647v-3.2M388.81 330.4v3.2M388.81 647v-3.2M400.3 330.4v3.2M400.3 647v-3.2M411.79 330.4v3.2M411.79 647v-3.2M423.28 330.4v3.2M423.28 647v-3.2M434.78 330.4v3.2M434.78 647v-3.2M446.27 330.4v3.2M446.27 647v-3.2M457.76 330.4v3.2M457.76 647v-3.2M469.25 330.4v6.3M469.25 647v-6.3M480.74 330.4v3.2M480.74 647v-3.2M492.23 330.4v3.2M492.23 647v-3.2M503.73 330.4v3.2M503.73 647v-3.2M515.22 330.4v3.2M515.22 647v-3.2M526.71 330.4v3.2M526.71 647v-3.2M538.2 330.4v3.2M538.2 647v-3.2M549.69 330.4v3.2M549.69 647v-3.2M561.18 330.4v3.2M561.18 647v-3.2M572.67 330.4v3.2M572.67 647v-3.2M584.17 330.4v6.3M584.17 647v-6.3M595.66 330.4v3.2M595.66 647v-3.2M607.15 330.4v3.2M607.15 647v-3.2M618.64 330.4v3.2M618.64 647v-3.2M630.13 330.4v3.2M630.13 647v-3.2M641.62 330.4v3.2M641.62 647v-3.2M653.12 330.4v3.2M653.12 647v-3.2M664.61 330.4v3.2M664.61 647v-3.2M676.1 330.4v3.2M676.1 647v-3.2M687.59 330.4v3.2M687.59 647v-3.2M699.08 330.4v6.3M699.08 647v-6.3M710.57 330.4v3.2M710.57 647v-3.2M722.07 330.4v3.2M722.07 647v-3.2M733.56 330.4v3.2M733.56 647v-3.2M745.05 330.4v3.2M745.05 647v-3.2M756.54 330.4v3.2M756.54 647v-3.2M768.03 330.4v3.2M768.03 647v-3.2M779.53 330.4v3.2M779.53 647v-3.2M791.02 330.4v3.2M791.02 647v-3.2M802.51 330.4v3.2M802.51 647v-3.2M124.5 627.19h6.9M814 627.19h-6.9M124.5 607.39h6.9M814 607.39h-6.9M124.5 587.58h6.9M814 587.58h-6.9M124.5 567.77h6.9M814 567.77h-6.9M124.5 547.97h13.8M814 547.97h-13.8M124.5 528.16h6.9M814 528.16h-6.9M124.5 508.36h6.9M814 508.36h-6.9M124.5 488.55h6.9M814 488.55h-6.9M124.5 468.74h6.9M814 468.74h-6.9M124.5 448.94h13.8M814 448.94h-13.8M124.5 429.13h6.9M814 429.13h-6.9M124.5 409.33h6.9M814 409.33h-6.9M124.5 389.52h6.9M814 389.52h-6.9M124.5 369.71h6.9M814 369.71h-6.9M124.5 349.91h13.8M814 349.91h-13.8" fill="none" stroke="#262626" stroke-width="1.0" stroke-linecap="butt" stroke-linejoin="miter"/>
<path d="M125.65 641.72L126.51 640.67L127.37 639.47L128.23 638.25L129.1 637.13L129.96 636.25L130.82 635.74L131.68 635.55L132.54 635.38L133.41 635.24L134.27 635.12L135.13 635.04L135.99 634.96L136.85 634.88L137.72 634.8L138.58 634.7L139.44 634.61L140.3 634.5L141.16 634.39L142.02 634.27L142.89 634.16L143.75 634.05L144.61 633.94L145.47 633.83L146.33 633.73L147.2 633.64L148.06 633.54L148.92 633.46L149.78 633.37L150.64 633.28L151.51 633.2L152.37 633.11L153.23 633.03L154.09 632.94L154.95 632.86L155.81 632.77L156.68 632.68L157.54 632.6L158.4 632.51L159.26 632.42L160.12 632.32L160.99 632.23L161.85 632.14L162.71 632.04L163.57 631.94L164.43 631.84L165.3 631.74L166.16 631.63L167.02 631.51L167.88 631.39L168.74 631.24L169.6 631.08L170.47 630.91L171.33 630.71L172.19 630.49L173.05 630.26L173.91 630.02L174.78 629.78L175.64 629.54L176.5 629.3L177.36 629.07L178.22 628.85L179.09 628.63L179.95 628.41L180.81 628.19L181.67 627.96L182.53 627.72L183.39 627.46L184.26 627.17L185.12 626.87L185.98 626.54L186.84 626.18L187.7 625.81L188.57 625.42L189.43 625.02L190.29 624.61L191.15 624.2L192.01 623.78L192.88 623.35L193.74 622.92L194.6 622.49L195.46 622.05L196.32 621.61L197.18 621.18L198.05 620.75L198.91 620.33L199.77 619.92L200.63 619.51L201.49 619.11L202.36 618.71L203.22 618.31L204.08 617.91L204.94 617.5L205.8 617.08L206.67 616.66L207.53 616.24L208.39 615.81L209.25 615.38L210.11 614.96L210.97 614.54L211.84 614.14L212.7 613.74L213.56 613.36L214.42 612.98L215.28 612.62L216.15 612.26L217.01 611.92L217.87 611.59L218.73 611.27L219.59 610.97L220.46 610.68L221.32 610.4L222.18 610.13L223.04 609.87L223.9 609.64L224.76 609.42L225.63 609.21L226.49 609.03L227.35 608.86L228.21 608.7L229.07 608.56L229.94 608.42L230.8 608.3L231.66 608.2L232.52 608.11L233.38 608.05L234.25 608.01L235.11 607.99L235.97 608L236.83 608.02L237.69 608.05L238.55 608.1L239.42 608.16L240.28 608.22L241.14 608.29L242 608.38L242.86 608.49L243.73 608.62L244.59 608.76L245.45 608.92L246.31 609.09L247.17 609.27L248.04 609.44L248.9 609.6L249.76 609.75L250.62 609.88L251.48 610.01L252.34 610.12L253.21 610.23L254.07 610.33L254.93 610.44L255.79 610.53L256.65 610.63L257.52 610.72L258.38 610.81L259.24 610.9L260.1 610.99L260.96 611.07L261.83 611.16L262.69 611.24L263.55 611.32L264.41 611.41L265.27 611.49L266.13 611.58L267 611.67L267.86 611.77L268.72 611.86L269.58 611.96L270.44 612.05L271.31 612.15L272.17 612.23L273.03 612.32L273.89 612.4L274.75 612.48L275.62 612.55L276.48 612.62L277.34 612.69L278.2 612.76L279.06 612.83L279.92 612.89L280.79 612.96L281.65 613.02L282.51 613.08L283.37 613.15L284.23 613.21L285.1 613.27L285.96 613.33L286.82 613.39L287.68 613.45L288.54 613.51L289.41 613.57L290.27 613.63L291.13 613.69L291.99 613.74L292.85 613.8L293.71 613.86L294.58 613.92L295.44 613.97L296.3 614.03L297.16 614.08L298.02 614.14L298.89 614.19L299.75 614.25L300.61 614.3L301.47 614.35L302.33 614.4L303.2 614.45L304.06 614.5L304.92 614.55L305.78 614.6L306.64 614.65L307.5 614.7L308.37 614.75L309.23 614.8L310.09 614.85L310.95 614.9L311.81 614.95L312.68 614.99L313.54 615.04L314.4 615.08L315.26 615.12L316.12 615.16L316.99 615.2L317.85 615.24L318.71 615.27L319.57 615.3L320.43 615.33L321.29 615.36L322.16 615.38L323.02 615.41L323.88 615.43L324.74 615.45L325.6 615.47L326.47 615.5L327.33 615.52L328.19 615.54L329.05 615.56L329.91 615.58L330.78 615.59L331.64 615.61L332.5 615.63L333.36 615.64L334.22 615.66L335.08 615.67L335.95 615.69L336.81 615.7L337.67 615.72L338.53 615.73L339.39 615.74L340.26 615.76L341.12 615.77L341.98 615.78L342.84 615.8L343.7 615.81L344.57 615.82L345.43 615.83L346.29 615.85L347.15 615.86L348.01 615.87L348.87 615.88L349.74 615.88L350.6 615.89L351.46 615.89L352.32 615.9L353.18 615.9L354.05 615.9L354.91 615.9L355.77 615.9L356.63 615.9L357.49 615.9L358.36 615.9L359.22 615.9L360.08 615.9L360.94 615.9L361.8 615.9L362.66 615.9L363.53 615.9L364.39 615.9L365.25 615.9L366.11 615.9L366.97 615.9L367.84 615.9L368.7 615.9L369.56 615.9L370.42 615.9L371.28 615.9L372.15 615.9L373.01 615.9L373.87 615.9L374.73 615.9L375.59 615.9L376.45 615.9L377.32 615.9L378.18 615.9L379.04 615.9L379.9 615.9L380.76 615.9L381.63 615.9L382.49 615.9L383.35 615.9L384.21 615.9L385.07 615.9L385.94 615.9L386.8 615.9L387.66 615.9L388.52 615.9L389.38 615.9L390.24 615.9L391.11 615.9L391.97 615.9L392.83 615.9L393.69 615.9L394.55 615.9L395.42 615.9L396.28 615.9L397.14 615.9L398 615.9L398.86 615.9L399.73 615.9L400.59 615.9L401.45 615.9L402.31 615.9L403.17 615.9L404.03 615.9L404.9 615.9L405.76 615.9L406.62 615.9L407.48 615.9L408.34 615.9L409.21 615.9L410.07 615.9L410.93 615.9L411.79 615.9L412.65 615.9L413.52 615.9L414.38 615.9L415.24 615.9L416.1 615.9L416.96 615.9L417.82 615.9L418.69 615.9L419.55 615.9L420.41 615.9L421.27 615.9L422.13 615.9L423 615.9L423.86 615.9L424.72 615.9L425.58 615.9L426.44 615.9L427.31 615.9L428.17 615.9L429.03 615.9L429.89 615.9L430.75 615.9L431.61 615.9L432.48 615.9L433.34 615.9L434.2 615.9L435.06 615.9L435.92 615.9L436.79 615.9L437.65 615.9L438.51 615.9L439.37 615.9L440.23 615.9L441.1 615.9L441.96 615.9L442.82 615.9L443.68 615.9L444.54 615.9L445.4 615.9L446.27 615.9L447.13 615.9L447.99 615.9L448.85 615.9L449.71 615.9L450.58 615.9L451.44 615.9L452.3 615.9L453.16 615.9L454.02 615.9L454.89 615.9L455.75 615.9L456.61 615.9L457.47 615.9L458.33 615.9L459.19 615.9L460.06 615.9L460.92 615.9L461.78 615.9L462.64 615.9L463.5 615.9L464.37 615.9L465.23 615.9L466.09 615.9L466.95 615.9L467.81 615.9L468.68 615.9L469.54 615.9L470.4 615.9L471.26 615.9L472.12 615.9L472.98 615.9L473.85 615.9L474.71 615.9L475.57 615.9L476.43 615.9L477.29 615.9L478.16 615.9L479.02 615.9L479.88 615.9L480.74 615.9L481.6 615.9L482.47 615.9L483.33 615.9L484.19 615.9L485.05 615.9L485.91 615.9L486.77 615.9L487.64 615.9L488.5 615.9L489.36 615.9L490.22 615.9L491.08 615.9L491.95 615.9L492.81 615.9L493.67 615.9L494.53 615.9L495.39 615.9L496.26 615.9L497.12 615.9L497.98 615.9L498.84 615.9L499.7 615.9L500.56 615.9L501.43 615.9L502.29 615.9L503.15 615.9L504.01 615.9L504.87 615.9L505.74 615.9L506.6 615.9L507.46 615.9L508.32 615.9L509.18 615.9L510.05 615.9L510.91 615.9L511.77 615.9L512.63 615.9L513.49 615.9L514.35 615.9L515.22 615.9L516.08 615.9L516.94 615.9L517.8 615.9L518.66 615.9L519.53 615.9L520.39 615.9L521.25 615.9L522.11 615.9L522.97 615.9L523.84 615.9L524.7 615.9L525.56 615.9L526.42 615.9L527.28 615.9L528.14 615.9L529.01 615.9L529.87 615.9L530.73 615.9L531.59 615.9L532.45 615.9L533.32 615.9L534.18 615.9L535.04 615.9L535.9 615.9L536.76 615.9L537.63 615.9L538.49 615.9L539.35 615.9L540.21 615.9L541.07 615.9L541.93 615.9L542.8 615.9L543.66 615.9L544.52 615.9L545.38 615.9L546.24 615.9L547.11 615.9L547.97 615.9L548.83 615.9L549.69 615.9L550.55 615.9L551.42 615.9L552.28 615.9L553.14 615.9L554 615.9L554.86 615.9L555.72 615.91L556.59 615.91L557.45 615.91L558.31 615.91L559.17 615.91L560.03 615.91L560.9 615.9L561.76 615.9L562.62 615.88L563.48 615.86L564.34 615.83L565.21 615.8L566.07 615.76L566.93 615.71L567.79 615.65L568.65 615.6L569.51 615.54L570.38 615.48L571.24 615.42L572.1 615.35L572.96 615.29L573.82 615.21L574.69 615.14L575.55 615.05L576.41 614.96L577.27 614.87L578.13 614.77L579 614.67L579.86 614.58L580.72 614.48L581.58 614.39L582.44 614.3L583.3 614.21L584.17 614.13L585.03 614.05L585.89 613.98L586.75 613.9L587.61 613.83L588.48 613.75L589.34 613.67L590.2 613.59L591.06 613.5L591.92 613.4L592.79 613.3L593.65 613.19L594.51 613.08L595.37 612.97L596.23 612.85L597.09 612.73L597.96 612.6L598.82 612.48L599.68 612.35L600.54 612.22L601.4 612.09L602.27 611.95L603.13 611.81L603.99 611.68L604.85 611.54L605.71 611.4L606.58 611.26L607.44 611.12L608.3 610.98L609.16 610.84L610.02 610.7L610.88 610.56L611.75 610.41L612.61 610.26L613.47 610.1L614.33 609.93L615.19 609.76L616.06 609.58L616.92 609.4L617.78 609.22L618.64 609.03L619.5 608.85L620.37 608.68L621.23 608.52L622.09 608.37L622.95 608.23L623.81 608.09L624.67 607.97L625.54 607.84L626.4 607.72L627.26 607.59L628.12 607.46L628.98 607.32L629.85 607.18L630.71 607.03L631.57 606.87L632.43 606.71L633.29 606.55L634.16 606.38L635.02 606.21L635.88 606.03L636.74 605.85L637.6 605.66L638.46 605.47L639.33 605.28L640.19 605.08L641.05 604.87L641.91 604.67L642.77 604.47L643.64 604.28L644.5 604.08L645.36 603.9L646.22 603.72L647.08 603.54L647.95 603.37L648.81 603.19L649.67 603.01L650.53 602.82L651.39 602.62L652.25 602.41L653.12 602.18L653.98 601.95L654.84 601.71L655.7 601.46L656.56 601.2L657.43 600.94L658.29 600.67L659.15 600.4L660.01 600.13L660.87 599.85L661.74 599.57L662.6 599.29L663.46 599L664.32 598.69L665.18 598.37L666.04 598.03L666.91 597.67L667.77 597.29L668.63 596.89L669.49 596.47L670.35 596.04L671.22 595.59L672.08 595.13L672.94 594.65L673.8 594.17L674.66 593.67L675.53 593.16L676.39 592.65L677.25 592.14L678.11 591.64L678.97 591.15L679.83 590.7L680.7 590.27L681.56 589.86L682.42 589.48L683.28 589.13L684.14 588.79L685.01 588.46L685.87 588.16L686.73 587.87L687.59 587.59L688.45 587.33L689.32 587.08L690.18 586.84L691.04 586.62L691.9 586.4L692.76 586.17L693.62 585.94L694.49 585.71L695.35 585.46L696.21 585.21L697.07 584.94L697.93 584.67L698.8 584.4L699.66 584.14L700.52 583.9L701.38 583.66L702.24 583.45L703.11 583.25L703.97 583.07L704.83 582.9L705.69 582.74L706.55 582.59L707.41 582.45L708.28 582.31L709.14 582.18L710 582.06L710.86 581.94L711.72 581.82L712.59 581.7L713.45 581.59L714.31 581.49L715.17 581.4L716.03 581.33L716.9 581.29L717.76 581.26L718.62 581.25L719.48 581.26L720.34 581.29L721.2 581.33L722.07 581.37L722.93 581.43L723.79 581.49L724.65 581.56L725.51 581.66L726.38 581.77L727.24 581.9L728.1 582.06L728.96 582.24L729.82 582.46L730.69 582.7L731.55 582.96L732.41 583.26L733.27 583.61L734.13 583.99L734.99 584.43L735.86 584.92L736.72 585.44L737.58 586L738.44 586.58L739.3 587.19L740.17 587.81L741.03 588.45L741.89 589.12L742.75 589.82L743.61 590.55L744.48 591.33L745.34 592.15L746.2 593.03L747.06 593.96L747.92 594.93L748.78 595.93L749.65 596.96L750.51 597.99L751.37 599.02L752.23 600.06L753.09 601.13L753.96 602.23L754.82 603.4L755.68 604.63L756.54 605.95L757.4 607.33L758.27 608.76L759.13 610.21L759.99 611.68L760.85 613.15L761.71 614.6L762.57 616.04L763.44 617.47L764.3 618.89L765.16 620.3L766.02 621.72L766.88 623.14L767.75 624.57L768.61 626.01L769.47 627.45L770.33 628.89L771.19 630.3L772.06 631.69L772.92 633.03L773.78 634.33L774.64 635.58L775.5 636.79L776.36 637.93L777.23 639.02L778.09 640.05L778.95 640.99L779.81 641.83L780.67 642.57L781.54 643.2L782.4 643.72L783.26 644.17L784.12 644.54L784.98 644.87L785.85 645.15L786.71 645.4L787.57 645.63L788.43 645.85L789.29 646.04L790.15 646.22L791.02 646.38L791.88 646.52L792.74 646.63L793.6 646.72L794.46 646.79L795.33 646.85L796.19 646.88L797.05 646.91L797.91 646.94L798.77 646.96L799.64 646.97L800.5 646.98L801.36 646.99L802.22 647L803.08 647L803.94 647L804.81 647L805.67 647L806.53 647L807.39 647L808.25 647L809.12 647L809.98 647L810.84 647L811.7 647L812.56 647L813.43 647L814 647" fill="none" stroke="#ff0000" stroke-width="2.2" stroke-dasharray="2.4 5.36" stroke-dashoffset="1" stroke-linejoin="round"/>
<path d="M125.65 647L126.51 647L127.37 647L128.23 647L129.1 647L129.96 647L130.82 647L131.68 647L132.54 647L133.41 647L134.27 647L135.13 647L135.99 647L136.85 647L137.72 647L138.58 647L139.44 647L140.3 647L141.16 647L142.02 647L142.89 647L143.75 647L144.61 647L145.47 647L146.33 647L147.2 647L148.06 647L148.92 647L149.78 647L150.64 647L151.51 647L152.37 647L153.23 647L154.09 647L154.95 647L155.81 647L156.68 647L157.54 647L158.4 647L159.26 647L160.12 647L160.99 647L161.85 647L162.71 647L163.57 647L164.43 647L165.3 647L166.16 647L167.02 647L167.88 647L168.74 647L169.6 647L170.47 647L171.33 647L172.19 647L173.05 647L173.91 647L174.78 647L175.64 647L176.5 647L177.36 647L178.22 647L179.09 647L179.95 647L180.81 647L181.67 647L182.53 647L183.39 647L184.26 647L185.12 647L185.98 647L186.84 647L187.7 647L188.57 647L189.43 647L190.29 647L191.15 647L192.01 647L192.88 647L193.74 647L194.6 647L195.46 647L196.32 647L197.18 647L198.05 647L198.91 647L199.77 647L200.63 647L201.49 647L202.36 647L203.22 647L204.08 647L204.94 647L205.8 647L206.67 647L207.53 647L208.39 647L209.25 647L210.11 647L210.97 647L211.84 647L212.7 647L213.56 647L214.42 647L215.28 647L216.15 647L217.01 647L217.87 647L218.73 647L219.59 647L220.46 647L221.32 647L222.18 647L223.04 647L223.9 647L224.76 647L225.63 647L226.49 647L227.35 647L228.21 647L229.07 647L229.94 647L230.8 647L231.66 647L232.52 647L233.38 647L234.25 647L235.11 647L235.97 647L236.83 647L237.69 647L238.55 647L239.42 647L240.28 647L241.14 647L242 647L242.86 647L243.73 647L244.59 647L245.45 647L246.31 647L247.17 647L248.04 647L248.9 647L249.76 647L250.62 647L251.48 647L252.34 647L253.21 647L254.07 647L254.93 647L255.79 647L256.65 647L257.52 647L258.38 647L259.24 647L260.1 647L260.96 647L261.83 647L262.69 647L263.55 647L264.41 647L265.27 647L266.13 647L267 647L267.86 647L268.72 647L269.58 647L270.44 647L271.31 647L272.17 647L273.03 647L273.89 647L274.75 646.99L275.62 646.98L276.48 646.97L277.34 646.95L278.2 646.92L279.06 646.89L279.92 646.86L280.79 646.82L281.65 646.78L282.51 646.74L283.37 646.7L284.23 646.66L285.1 646.62L285.96 646.57L286.82 646.53L287.68 646.47L288.54 646.42L289.41 646.36L290.27 646.29L291.13 646.22L291.99 646.15L292.85 646.07L293.71 646L294.58 645.91L295.44 645.83L296.3 645.75L297.16 645.66L298.02 645.58L298.89 645.49L299.75 645.4L300.61 645.32L301.47 645.23L302.33 645.15L303.2 645.07L304.06 644.99L304.92 644.91L305.78 644.83L306.64 644.76L307.5 644.69L308.37 644.62L309.23 644.56L310.09 644.49L310.95 644.42L311.81 644.35L312.68 644.28L313.54 644.2L314.4 644.13L315.26 644.06L316.12 643.98L316.99 643.91L317.85 643.83L318.71 643.76L319.57 643.69L320.43 643.61L321.29 643.54L322.16 643.48L323.02 643.41L323.88 643.35L324.74 643.28L325.6 643.22L326.47 643.17L327.33 643.12L328.19 643.07L329.05 643.02L329.91 642.98L330.78 642.95L331.64 642.91L332.5 642.89L333.36 642.87L334.22 642.85L335.08 642.84L335.95 642.84L336.81 642.85L337.67 642.87L338.53 642.89L339.39 642.93L340.26 642.98L341.12 643.03L341.98 643.09L342.84 643.16L343.7 643.24L344.57 643.32L345.43 643.41L346.29 643.5L347.15 643.6L348.01 643.69L348.87 643.8L349.74 643.9L350.6 644L351.46 644.11L352.32 644.21L353.18 644.31L354.05 644.41L354.91 644.51L355.77 644.61L356.63 644.7L357.49 644.78L358.36 644.87L359.22 644.94L360.08 645.02L360.94 645.09L361.8 645.16L362.66 645.23L363.53 645.3L364.39 645.37L365.25 645.44L366.11 645.51L366.97 645.58L367.84 645.65L368.7 645.72L369.56 645.78L370.42 645.85L371.28 645.92L372.15 645.98L373.01 646.05L373.87 646.11L374.73 646.17L375.59 646.22L376.45 646.28L377.32 646.33L378.18 646.38L379.04 646.43L379.9 646.47L380.76 646.51L381.63 646.55L382.49 646.58L383.35 646.61L384.21 646.64L385.07 646.67L385.94 646.7L386.8 646.73L387.66 646.76L388.52 646.78L389.38 646.81L390.24 646.84L391.11 646.86L391.97 646.88L392.83 646.9L393.69 646.92L394.55 646.94L395.42 646.96L396.28 646.97L397.14 646.98L398 646.99L398.86 646.99L399.73 647L400.59 647L401.45 647L402.31 647L403.17 647L404.03 647L404.9 647L405.76 647L406.62 647L407.48 647L408.34 647L409.21 647L410.07 647L410.93 647L411.79 647L412.65 647L413.52 647L414.38 647L415.24 647L416.1 647L416.96 647L417.82 647L418.69 647L419.55 647L420.41 647L421.27 647L422.13 647L423 647L423.86 647L424.72 647L425.58 647L426.44 647L427.31 647L428.17 647L429.03 647L429.89 647L430.75 647L431.61 647L432.48 647L433.34 647L434.2 647L435.06 647L435.92 647L436.79 647L437.65 647L438.51 647L439.37 647L440.23 647L441.1 647L441.96 647L442.82 647L443.68 647L444.54 647L445.4 647L446.27 647L447.13 647L447.99 647L448.85 647L449.71 647L450.58 647L451.44 647L452.3 647L453.16 647L454.02 647L454.89 647L455.75 647L456.61 647L457.47 646.99L458.33 646.99L459.19 646.99L460.06 646.99L460.92 646.99L461.78 646.99L462.64 646.99L463.5 646.99L464.37 646.99L465.23 646.99L466.09 646.98L466.95 646.98L467.81 646.98L468.68 646.98L469.54 646.98L470.4 646.98L471.26 646.97L472.12 646.97L472.98 646.97L473.85 646.97L474.71 646.97L475.57 646.97L476.43 646.96L477.29 646.96L478.16 646.96L479.02 646.96L479.88 646.95L480.74 646.95L481.6 646.95L482.47 646.95L483.33 646.94L484.19 646.94L485.05 646.94L485.91 646.94L486.77 646.93L487.64 646.93L488.5 646.93L489.36 646.92L490.22 646.92L491.08 646.92L491.95 646.91L492.81 646.91L493.67 646.91L494.53 646.9L495.39 646.9L496.26 646.9L497.12 646.89L497.98 646.89L498.84 646.89L499.7 646.88L500.56 646.88L501.43 646.87L502.29 646.87L503.15 646.87L504.01 646.86L504.87 646.86L505.74 646.85L506.6 646.85L507.46 646.84L508.32 646.84L509.18 646.84L510.05 646.83L510.91 646.83L511.77 646.82L512.63 646.82L513.49 646.81L514.35 646.81L515.22 646.8L516.08 646.8L516.94 646.79L517.8 646.78L518.66 646.77L519.53 646.76L520.39 646.75L521.25 646.73L522.11 646.72L522.97 646.7L523.84 646.69L524.7 646.67L525.56 646.65L526.42 646.63L527.28 646.61L528.14 646.59L529.01 646.57L529.87 646.54L530.73 646.52L531.59 646.49L532.45 646.47L533.32 646.44L534.18 646.41L535.04 646.38L535.9 646.35L536.76 646.32L537.63 646.29L538.49 646.26L539.35 646.23L540.21 646.2L541.07 646.16L541.93 646.12L542.8 646.08L543.66 646.03L544.52 645.99L545.38 645.93L546.24 645.88L547.11 645.82L547.97 645.76L548.83 645.69L549.69 645.62L550.55 645.55L551.42 645.48L552.28 645.4L553.14 645.32L554 645.24L554.86 645.15L555.72 645.07L556.59 644.98L557.45 644.88L558.31 644.79L559.17 644.69L560.03 644.58L560.9 644.48L561.76 644.36L562.62 644.24L563.48 644.11L564.34 643.97L565.21 643.82L566.07 643.66L566.93 643.49L567.79 643.31L568.65 643.13L569.51 642.93L570.38 642.73L571.24 642.52L572.1 642.31L572.96 642.08L573.82 641.86L574.69 641.62L575.55 641.38L576.41 641.13L577.27 640.88L578.13 640.62L579 640.36L579.86 640.09L580.72 639.81L581.58 639.53L582.44 639.24L583.3 638.93L584.17 638.61L585.03 638.27L585.89 637.92L586.75 637.54L587.61 637.15L588.48 636.75L589.34 636.33L590.2 635.89L591.06 635.44L591.92 634.97L592.79 634.49L593.65 633.99L594.51 633.47L595.37 632.92L596.23 632.35L597.09 631.75L597.96 631.13L598.82 630.47L599.68 629.78L600.54 629.06L601.4 628.32L602.27 627.55L603.13 626.74L603.99 625.91L604.85 625.03L605.71 624.12L606.58 623.16L607.44 622.15L608.3 621.09L609.16 619.98L610.02 618.82L610.88 617.61L611.75 616.35L612.61 615.04L613.47 613.67L614.33 612.23L615.19 610.73L616.06 609.16L616.92 607.53L617.78 605.83L618.64 604.08L619.5 602.28L620.37 600.43L621.23 598.53L622.09 596.58L622.95 594.56L623.81 592.48L624.67 590.33L625.54 588.11L626.4 585.82L627.26 583.45L628.12 581.01L628.98 578.49L629.85 575.9L630.71 573.23L631.57 570.49L632.43 567.68L633.29 564.8L634.16 561.85L635.02 558.83L635.88 555.74L636.74 552.59L637.6 549.39L638.46 546.15L639.33 542.9L640.19 539.63L641.05 536.35L641.91 533.01L642.77 529.6L643.64 526.06L644.5 522.37L645.36 518.56L646.22 514.66L647.08 510.71L647.95 506.68L648.81 502.53L649.67 498.15L650.53 493.5L651.39 488.59L652.25 483.57L653.12 478.58L653.98 473.78L654.84 469.2L655.7 464.8L656.56 460.45L657.43 456.02L658.29 451.37L659.15 446.45L660.01 441.31L660.87 436.05L661.74 430.82L662.6 425.76L663.46 420.94L664.32 416.34L665.18 411.87L666.04 407.45L666.91 402.97L667.77 398.38L668.63 393.67L669.49 388.87L670.35 384L671.22 379.12L672.08 374.25L672.94 369.45L673.8 364.75L674.66 360.22L675.53 355.92L676.39 351.92L677.25 348.3L678.11 345.15L678.97 342.53L679.83 340.53L680.7 339.2L681.56 338.57L682.42 338.66L683.28 339.43L684.14 340.81L685.01 342.74L685.87 345.13L686.73 347.94L687.59 351.11L688.45 354.59L689.32 358.34L690.18 362.31L691.04 366.47L691.9 370.77L692.76 375.18L693.62 379.65L694.49 384.14L695.35 388.61L696.21 393.02L697.07 397.32L697.93 401.51L698.8 405.57L699.66 409.54L700.52 413.49L701.38 417.5L702.24 421.67L703.11 426.07L703.97 430.73L704.83 435.62L705.69 440.67L706.55 445.76L707.41 450.8L708.28 455.7L709.14 460.45L710 465.04L710.86 469.51L711.72 473.9L712.59 478.21L713.45 482.47L714.31 486.68L715.17 490.83L716.03 494.92L716.9 498.92L717.76 502.85L718.62 506.68L719.48 510.43L720.34 514.12L721.2 517.77L722.07 521.41L722.93 525.07L723.79 528.76L724.65 532.48L725.51 536.24L726.38 540.01L727.24 543.79L728.1 547.57L728.96 551.32L729.82 555.05L730.69 558.75L731.55 562.42L732.41 566.05L733.27 569.63L734.13 573.16L734.99 576.62L735.86 580.01L736.72 583.32L737.58 586.56L738.44 589.73L739.3 592.8L740.17 595.77L741.03 598.64L741.89 601.39L742.75 604.02L743.61 606.54L744.48 608.96L745.34 611.28L746.2 613.51L747.06 615.65L747.92 617.71L748.78 619.7L749.65 621.61L750.51 623.44L751.37 625.2L752.23 626.87L753.09 628.45L753.96 629.92L754.82 631.3L755.68 632.59L756.54 633.78L757.4 634.9L758.27 635.95L759.13 636.94L759.99 637.86L760.85 638.74L761.71 639.57L762.57 640.35L763.44 641.08L764.3 641.76L765.16 642.38L766.02 642.94L766.88 643.43L767.75 643.87L768.61 644.25L769.47 644.6L770.33 644.91L771.19 645.19L772.06 645.44L772.92 645.67L773.78 645.87L774.64 646.04L775.5 646.19L776.36 646.32L777.23 646.43L778.09 646.53L778.95 646.62L779.81 646.71L780.67 646.78L781.54 646.85L782.4 646.9L783.26 646.94L784.12 646.97L784.98 646.99L785.85 647L786.71 647L787.57 647L788.43 647L789.29 647L790.15 647L791.02 647L791.88 647L792.74 647L793.6 647L794.46 647L795.33 647L796.19 647L797.05 647L797.91 647L798.77 647L799.64 647L800.5 647L801.36 647L802.22 647L803.08 647L803.94 647L804.81 647L805.67 647L806.53 647L807.39 647L808.25 647L809.12 647L809.98 647L810.84 647L811.7 647L812.56 647L813.43 647L814 647" fill="none" stroke="#00ff00" stroke-width="2.2" stroke-linejoin="round"/>
<path d="M125.65 647L126.51 647L127.37 647L128.23 647L129.1 647L129.96 647L130.82 647L131.68 647L132.54 647L133.41 647L134.27 647L135.13 647L135.99 647L136.85 647L137.72 647L138.58 647L139.44 647L140.3 647L141.16 647L142.02 647L142.89 647L143.75 647L144.61 647L145.47 647L146.33 647L147.2 647L148.06 647L148.92 647L149.78 647L150.64 647L151.51 647L152.37 647L153.23 647L154.09 647L154.95 647L155.81 647L156.68 647L157.54 647L158.4 647L159.26 647L160.12 647L160.99 647L161.85 647L162.71 647L163.57 647L164.43 647L165.3 647L166.16 647L167.02 647L167.88 647L168.74 647L169.6 647L170.47 647L171.33 647L172.19 647L173.05 647L173.91 647L174.78 647L175.64 647L176.5 647L177.36 647L178.22 647L179.09 647L179.95 647L180.81 647L181.67 647L182.53 647L183.39 647L184.26 647L185.12 647L185.98 647L186.84 647L187.7 647L188.57 647L189.43 647L190.29 647L191.15 647L192.01 647L192.88 647L193.74 647L194.6 647L195.46 647L196.32 647L197.18 647L198.05 647L198.91 647L199.77 647L200.63 647L201.49 647L202.36 647L203.22 647L204.08 647L204.94 647L205.8 647L206.67 647L207.53 647L208.39 647L209.25 647L210.11 647L210.97 647L211.84 647L212.7 647L213.56 647L214.42 647L215.28 647L216.15 647L217.01 647L217.87 647L218.73 647L219.59 647L220.46 647L221.32 647L222.18 647L223.04 647L223.9 647L224.76 647L225.63 647L226.49 647L227.35 647L228.21 647L229.07 647L229.94 647L230.8 647L231.66 647L232.52 647L233.38 647L234.25 647L235.11 647L235.97 647L236.83 647L237.69 647L238.55 647L239.42 647L240.28 647L241.14 647L242 647L242.86 647L243.73 647L244.59 647L245.45 647L246.31 647L247.17 647L248.04 647L248.9 647L249.76 647L250.62 647L251.48 647L252.34 647L253.21 647L254.07 647L254.93 647L255.79 647L256.65 647L257.52 647L258.38 647L259.24 647L260.1 647L260.96 647L261.83 647L262.69 647L263.55 646.99L264.41 646.98L265.27 646.96L266.13 646.94L267 646.91L267.86 646.88L268.72 646.85L269.58 646.81L270.44 646.77L271.31 646.73L272.17 646.69L273.03 646.65L273.89 646.6L274.75 646.56L275.62 646.51L276.48 646.47L277.34 646.41L278.2 646.36L279.06 646.3L279.92 646.24L280.79 646.18L281.65 646.11L282.51 646.04L283.37 645.97L284.23 645.9L285.1 645.82L285.96 645.74L286.82 645.66L287.68 645.58L288.54 645.5L289.41 645.41L290.27 645.33L291.13 645.24L291.99 645.15L292.85 645.06L293.71 644.97L294.58 644.88L295.44 644.78L296.3 644.69L297.16 644.59L298.02 644.48L298.89 644.37L299.75 644.25L300.61 644.12L301.47 643.99L302.33 643.86L303.2 643.71L304.06 643.57L304.92 643.43L305.78 643.28L306.64 643.13L307.5 642.99L308.37 642.85L309.23 642.71L310.09 642.58L310.95 642.45L311.81 642.34L312.68 642.22L313.54 642.12L314.4 642.02L315.26 641.92L316.12 641.82L316.99 641.72L317.85 641.62L318.71 641.53L319.57 641.43L320.43 641.34L321.29 641.24L322.16 641.16L323.02 641.07L323.88 640.99L324.74 640.92L325.6 640.86L326.47 640.8L327.33 640.75L328.19 640.71L329.05 640.69L329.91 640.67L330.78 640.67L331.64 640.67L332.5 640.69L333.36 640.72L334.22 640.76L335.08 640.81L335.95 640.87L336.81 640.93L337.67 641.01L338.53 641.09L339.39 641.17L340.26 641.26L341.12 641.36L341.98 641.46L342.84 641.56L343.7 641.66L344.57 641.76L345.43 641.87L346.29 641.97L347.15 642.07L348.01 642.18L348.87 642.28L349.74 642.4L350.6 642.51L351.46 642.64L352.32 642.77L353.18 642.91L354.05 643.06L354.91 643.21L355.77 643.36L356.63 643.52L357.49 643.68L358.36 643.84L359.22 643.99L360.08 644.15L360.94 644.3L361.8 644.44L362.66 644.58L363.53 644.71L364.39 644.83L365.25 644.94L366.11 645.05L366.97 645.16L367.84 645.26L368.7 645.36L369.56 645.46L370.42 645.56L371.28 645.65L372.15 645.75L373.01 645.84L373.87 645.93L374.73 646.01L375.59 646.1L376.45 646.17L377.32 646.25L378.18 646.32L379.04 646.38L379.9 646.44L380.76 646.49L381.63 646.54L382.49 646.58L383.35 646.62L384.21 646.65L385.07 646.68L385.94 646.71L386.8 646.74L387.66 646.77L388.52 646.79L389.38 646.82L390.24 646.84L391.11 646.87L391.97 646.89L392.83 646.91L393.69 646.93L394.55 646.94L395.42 646.96L396.28 646.97L397.14 646.98L398 646.99L398.86 646.99L399.73 647L400.59 647L401.45 647L402.31 647L403.17 647L404.03 647L404.9 647L405.76 647L406.62 647L407.48 647L408.34 647L409.21 647L410.07 647L410.93 647L411.79 647L412.65 647L413.52 647L414.38 647L415.24 647L416.1 647L416.96 647L417.82 647L418.69 647L419.55 647L420.41 647L421.27 647L422.13 647L423 647L423.86 647L424.72 647L425.58 647L426.44 647L427.31 647L428.17 647L429.03 647L429.89 647L430.75 647L431.61 647L432.48 647L433.34 647L434.2 647L435.06 647L435.92 647L436.79 647L437.65 647L438.51 647L439.37 647L440.23 647L441.1 647L441.96 647L442.82 647L443.68 647L444.54 647L445.4 647L446.27 647L447.13 647L447.99 647L448.85 647L449.71 647L450.58 647L451.44 647L452.3 647L453.16 647L454.02 647L454.89 647L455.75 646.99L456.61 646.99L457.47 646.99L458.33 646.99L459.19 646.99L460.06 646.99L460.92 646.99L461.78 646.99L462.64 646.98L463.5 646.98L464.37 646.98L465.23 646.98L466.09 646.98L466.95 646.97L467.81 646.97L468.68 646.97L469.54 646.97L470.4 646.96L471.26 646.96L472.12 646.96L472.98 646.96L473.85 646.95L474.71 646.95L475.57 646.95L476.43 646.94L477.29 646.94L478.16 646.94L479.02 646.94L479.88 646.93L480.74 646.93L481.6 646.92L482.47 646.92L483.33 646.92L484.19 646.91L485.05 646.91L485.91 646.91L486.77 646.9L487.64 646.9L488.5 646.89L489.36 646.89L490.22 646.88L491.08 646.88L491.95 646.87L492.81 646.87L493.67 646.86L494.53 646.86L495.39 646.85L496.26 646.85L497.12 646.84L497.98 646.84L498.84 646.83L499.7 646.83L500.56 646.82L501.43 646.82L502.29 646.81L503.15 646.81L504.01 646.8L504.87 646.79L505.74 646.78L506.6 646.77L507.46 646.76L508.32 646.75L509.18 646.74L510.05 646.72L510.91 646.7L511.77 646.68L512.63 646.67L513.49 646.64L514.35 646.62L515.22 646.6L516.08 646.58L516.94 646.55L517.8 646.53L518.66 646.5L519.53 646.47L520.39 646.44L521.25 646.41L522.11 646.38L522.97 646.35L523.84 646.32L524.7 646.29L525.56 646.25L526.42 646.22L527.28 646.18L528.14 646.14L529.01 646.1L529.87 646.05L530.73 646.01L531.59 645.95L532.45 645.9L533.32 645.84L534.18 645.77L535.04 645.71L535.9 645.64L536.76 645.56L537.63 645.49L538.49 645.41L539.35 645.33L540.21 645.24L541.07 645.16L541.93 645.07L542.8 644.98L543.66 644.88L544.52 644.78L545.38 644.69L546.24 644.58L547.11 644.48L547.97 644.38L548.83 644.27L549.69 644.16L550.55 644.05L551.42 643.93L552.28 643.8L553.14 643.67L554 643.54L554.86 643.39L555.72 643.24L556.59 643.09L557.45 642.93L558.31 642.76L559.17 642.58L560.03 642.4L560.9 642.21L561.76 642.01L562.62 641.81L563.48 641.61L564.34 641.39L565.21 641.17L566.07 640.95L566.93 640.72L567.79 640.48L568.65 640.24L569.51 639.99L570.38 639.73L571.24 639.47L572.1 639.21L572.96 638.93L573.82 638.65L574.69 638.35L575.55 638.04L576.41 637.72L577.27 637.38L578.13 637.02L579 636.65L579.86 636.27L580.72 635.86L581.58 635.45L582.44 635.01L583.3 634.56L584.17 634.1L585.03 633.62L585.89 633.12L586.75 632.61L587.61 632.08L588.48 631.54L589.34 630.99L590.2 630.41L591.06 629.82L591.92 629.2L592.79 628.56L593.65 627.87L594.51 627.15L595.37 626.38L596.23 625.57L597.09 624.72L597.96 623.83L598.82 622.89L599.68 621.92L600.54 620.92L601.4 619.89L602.27 618.83L603.13 617.74L603.99 616.62L604.85 615.49L605.71 614.32L606.58 613.12L607.44 611.88L608.3 610.6L609.16 609.26L610.02 607.87L610.88 606.43L611.75 604.93L612.61 603.38L613.47 601.78L614.33 600.13L615.19 598.43L616.06 596.69L616.92 594.91L617.78 593.06L618.64 591.16L619.5 589.18L620.37 587.12L621.23 584.98L622.09 582.76L622.95 580.46L623.81 578.08L624.67 575.63L625.54 573.1L626.4 570.48L627.26 567.78L628.12 565L628.98 562.15L629.85 559.24L630.71 556.29L631.57 553.31L632.43 550.3L633.29 547.27L634.16 544.2L635.02 541.08L635.88 537.88L636.74 534.58L637.6 531.16L638.46 527.61L639.33 523.91L640.19 520.05L641.05 516.03L641.91 511.85L642.77 507.51L643.64 503.04L644.5 498.48L645.36 493.87L646.22 489.27L647.08 484.71L647.95 480.2L648.81 475.74L649.67 471.29L650.53 466.84L651.39 462.34L652.25 457.79L653.12 453.18L653.98 448.5L654.84 443.77L655.7 438.99L656.56 434.17L657.43 429.34L658.29 424.5L659.15 419.68L660.01 414.9L660.87 410.22L661.74 405.67L662.6 401.28L663.46 397.1L664.32 393.15L665.18 389.44L666.04 385.98L666.91 382.78L667.77 379.82L668.63 377.08L669.49 374.56L670.35 372.21L671.22 370.03L672.08 368.04L672.94 366.27L673.8 364.75L674.66 363.53L675.53 362.65L676.39 362.13L677.25 361.98L678.11 362.19L678.97 362.77L679.83 363.68L680.7 364.94L681.56 366.54L682.42 368.47L683.28 370.72L684.14 373.28L685.01 376.11L685.87 379.17L686.73 382.43L687.59 385.89L688.45 389.55L689.32 393.41L690.18 397.43L691.04 401.61L691.9 405.89L692.76 410.25L693.62 414.68L694.49 419.17L695.35 423.74L696.21 428.42L697.07 433.2L697.93 438.06L698.8 442.95L699.66 447.84L700.52 452.67L701.38 457.44L702.24 462.12L703.11 466.72L703.97 471.25L704.83 475.72L705.69 480.12L706.55 484.47L707.41 488.74L708.28 492.92L709.14 496.99L710 500.93L710.86 504.72L711.72 508.35L712.59 511.82L713.45 515.17L714.31 518.44L715.17 521.68L716.03 524.89L716.9 528.1L717.76 531.29L718.62 534.47L719.48 537.61L720.34 540.71L721.2 543.78L722.07 546.81L722.93 549.79L723.79 552.73L724.65 555.62L725.51 558.46L726.38 561.25L727.24 564L728.1 566.7L728.96 569.36L729.82 571.96L730.69 574.52L731.55 577.03L732.41 579.49L733.27 581.9L734.13 584.27L734.99 586.59L735.86 588.86L736.72 591.08L737.58 593.23L738.44 595.32L739.3 597.35L740.17 599.3L741.03 601.2L741.89 603.05L742.75 604.85L743.61 606.61L744.48 608.32L745.34 609.99L746.2 611.61L747.06 613.18L747.92 614.69L748.78 616.15L749.65 617.56L750.51 618.92L751.37 620.24L752.23 621.52L753.09 622.77L753.96 623.98L754.82 625.17L755.68 626.33L756.54 627.45L757.4 628.54L758.27 629.59L759.13 630.6L759.99 631.56L760.85 632.48L761.71 633.35L762.57 634.18L763.44 634.98L764.3 635.74L765.16 636.47L766.02 637.18L766.88 637.86L767.75 638.51L768.61 639.13L769.47 639.72L770.33 640.26L771.19 640.77L772.06 641.24L772.92 641.67L773.78 642.06L774.64 642.43L775.5 642.76L776.36 643.07L777.23 643.37L778.09 643.65L778.95 643.91L779.81 644.15L780.67 644.38L781.54 644.59L782.4 644.79L783.26 644.97L784.12 645.15L784.98 645.31L785.85 645.47L786.71 645.62L787.57 645.77L788.43 645.91L789.29 646.05L790.15 646.18L791.02 646.3L791.88 646.41L792.74 646.51L793.6 646.59L794.46 646.67L795.33 646.73L796.19 646.77L797.05 646.81L797.91 646.84L798.77 646.87L799.64 646.89L800.5 646.91L801.36 646.92L802.22 646.94L803.08 646.95L803.94 646.97L804.81 646.98L805.67 646.99L806.53 646.99L807.39 647L808.25 647L809.12 647L809.98 647L810.84 647L811.7 647L812.56 647L813.43 647L814 647" fill="none" stroke="#0000ff" stroke-width="2.2" stroke-dasharray="11.4 10.8" stroke-dashoffset="1" stroke-linejoin="round"/>
<path d="M123.12 665.83L120.76 666.6L119.2 668.93L118.41 672.8L118.41 675.12L119.2 679L120.76 681.33L123.12 682.1L124.68 682.1L127.04 681.33L128.6 679L129.39 675.12L129.39 672.8L128.6 668.93L127.04 666.6L124.68 665.83L123.12 665.83M235.68 668.93L237.25 668.15L239.6 665.83L239.6 682.1M349.03 669.7L349.03 668.93L349.81 667.38L350.6 666.6L352.17 665.83L355.3 665.83L356.87 666.6L357.65 667.38L358.44 668.93L358.44 670.48L357.65 672.02L356.09 674.35L348.25 682.1L359.22 682.1M464.73 665.83L473.35 665.83L468.65 672.02L471 672.02L472.57 672.8L473.35 673.58L474.14 675.9L474.14 677.45L473.35 679.77L471.79 681.33L469.43 682.1L467.08 682.1L464.73 681.33L463.95 680.55L463.16 679M585.92 665.83L578.08 676.68L589.84 676.68M585.92 665.83L585.92 682.1M702.4 665.83L694.56 665.83L693.78 672.8L694.56 672.02L696.92 671.25L699.27 671.25L701.62 672.02L703.19 673.58L703.97 675.9L703.97 677.45L703.19 679.77L701.62 681.33L699.27 682.1L696.92 682.1L694.56 681.33L693.78 680.55L693 679M818.1 668.15L817.32 666.6L814.97 665.83L813.4 665.83L811.05 666.6L809.48 668.93L808.7 672.8L808.7 676.68L809.48 679.77L811.05 681.33L813.4 682.1L814.18 682.1L816.54 681.33L818.1 679.77L818.89 677.45L818.89 676.68L818.1 674.35L816.54 672.8L814.18 672.02L813.4 672.02L811.05 672.8L809.48 674.35L808.7 676.68M423.04 695.93L423.04 712.2M423.04 695.93L430 695.93L432.32 696.7L433.09 697.48L433.86 699.03L433.86 700.58L433.09 702.12L432.32 702.9L430 703.68L423.04 703.68M428.45 703.68L433.86 712.2M438.5 706L447.78 706L447.78 704.45L447.01 702.9L446.23 702.12L444.69 701.35L442.37 701.35L440.82 702.12L439.28 703.68L438.5 706L438.5 707.55L439.28 709.88L440.82 711.43L442.37 712.2L444.69 712.2L446.23 711.43L447.78 709.88M461.69 695.93L461.69 712.2M461.69 703.68L460.15 702.12L458.6 701.35L456.28 701.35L454.74 702.12L453.19 703.68L452.42 706L452.42 707.55L453.19 709.88L454.74 711.43L456.28 712.2L458.6 712.2L460.15 711.43L461.69 709.88M475.61 703.68L474.83 702.12L472.51 701.35L470.2 701.35L467.88 702.12L467.1 703.68L467.88 705.23L469.42 706L473.29 706.78L474.83 707.55L475.61 709.1L475.61 709.88L474.83 711.43L472.51 712.2L470.2 712.2L467.88 711.43L467.1 709.88M481.02 695.93L481.02 712.2M481.02 704.45L483.34 702.12L484.88 701.35L487.2 701.35L488.75 702.12L489.52 704.45L489.52 712.2M494.93 695.93L495.7 696.7L496.48 695.93L495.7 695.15L494.93 695.93M495.7 701.35L495.7 712.2M506.53 695.93L504.98 695.93L503.44 696.7L502.66 699.03L502.66 712.2M500.34 701.35L505.75 701.35M511.94 695.93L511.94 709.1L512.71 711.43L514.26 712.2L515.8 712.2M509.62 701.35L515.03 701.35M84.46 224.49L82.1 225.27L80.54 227.59L79.75 231.47L79.75 233.79L80.54 237.67L82.1 239.99L84.46 240.77L86.02 240.77L88.38 239.99L89.94 237.67L90.73 233.79L90.73 231.47L89.94 227.59L88.38 225.27L86.02 224.49L84.46 224.49M97 239.22L96.22 239.99L97 240.77L97.78 239.99L97 239.22M112.68 224.49L104.84 224.49L104.06 231.47L104.84 230.69L107.19 229.92L109.54 229.92L111.9 230.69L113.46 232.24L114.25 234.57L114.25 236.12L113.46 238.44L111.9 239.99L109.54 240.77L107.19 240.77L104.84 239.99L104.06 239.22L103.27 237.67M82.1 128.56L83.67 127.79L86.02 125.46L86.02 141.74M97 140.19L96.22 140.96L97 141.74L97.78 140.96L97 140.19M107.98 125.46L105.62 126.24L104.06 128.56L103.27 132.44L103.27 134.76L104.06 138.64L105.62 140.96L107.98 141.74L109.54 141.74L111.9 140.96L113.46 138.64L114.25 134.76L114.25 132.44L113.46 128.56L111.9 126.24L109.54 125.46L107.98 125.46M82.1 29.53L83.67 28.76L86.02 26.43L86.02 42.71M97 41.16L96.22 41.93L97 42.71L97.78 41.93L97 41.16M112.68 26.43L104.84 26.43L104.06 33.41L104.84 32.63L107.19 31.86L109.54 31.86L111.9 32.63L113.46 34.18L114.25 36.51L114.25 38.06L113.46 40.38L111.9 41.93L109.54 42.71L107.19 42.71L104.84 41.93L104.06 41.16L103.27 39.61M84.46 314.32L82.1 315.1L80.54 317.42L79.75 321.3L79.75 323.62L80.54 327.5L82.1 329.82L84.46 330.6L86.02 330.6L88.38 329.82L89.94 327.5L90.73 323.62L90.73 321.3L89.94 317.42L88.38 315.1L86.02 314.32L84.46 314.32M97 329.05L96.22 329.82L97 330.6L97.78 329.82L97 329.05M107.98 314.32L105.62 315.1L104.06 317.42L103.27 321.3L103.27 323.62L104.06 327.5L105.62 329.82L107.98 330.6L109.54 330.6L111.9 329.82L113.46 327.5L114.25 323.62L114.25 321.3L113.46 317.42L111.9 315.1L109.54 314.32L107.98 314.32M84.46 541.09L82.1 541.87L80.54 544.19L79.75 548.07L79.75 550.39L80.54 554.27L82.1 556.59L84.46 557.37L86.02 557.37L88.38 556.59L89.94 554.27L90.73 550.39L90.73 548.07L89.94 544.19L88.38 541.87L86.02 541.09L84.46 541.09M97 555.82L96.22 556.59L97 557.37L97.78 556.59L97 555.82M112.68 541.09L104.84 541.09L104.06 548.07L104.84 547.29L107.19 546.52L109.54 546.52L111.9 547.29L113.46 548.84L114.25 551.17L114.25 552.72L113.46 555.04L111.9 556.59L109.54 557.37L107.19 557.37L104.84 556.59L104.06 555.82L103.27 554.27M82.1 445.16L83.67 444.39L86.02 442.06L86.02 458.34M97 456.79L96.22 457.56L97 458.34L97.78 457.56L97 456.79M107.98 442.06L105.62 442.84L104.06 445.16L103.27 449.04L103.27 451.36L104.06 455.24L105.62 457.56L107.98 458.34L109.54 458.34L111.9 457.56L113.46 455.24L114.25 451.36L114.25 449.04L113.46 445.16L111.9 442.84L109.54 442.06L107.98 442.06M82.1 346.13L83.67 345.36L86.02 343.03L86.02 359.31M97 357.76L96.22 358.53L97 359.31L97.78 358.53L97 357.76M112.68 343.03L104.84 343.03L104.06 350.01L104.84 349.23L107.19 348.46L109.54 348.46L111.9 349.23L113.46 350.78L114.25 353.11L114.25 354.66L113.46 356.98L111.9 358.53L109.54 359.31L107.19 359.31L104.84 358.53L104.06 357.76L103.27 356.21M84.46 630.93L82.1 631.7L80.54 634.03L79.75 637.9L79.75 640.23L80.54 644.1L82.1 646.43L84.46 647.2L86.02 647.2L88.38 646.43L89.94 644.1L90.73 640.23L90.73 637.9L89.94 634.03L88.38 631.7L86.02 630.93L84.46 630.93M97 645.65L96.22 646.43L97 647.2L97.78 646.43L97 645.65M107.98 630.93L105.62 631.7L104.06 634.03L103.27 637.9L103.27 640.23L104.06 644.1L105.62 646.43L107.98 647.2L109.54 647.2L111.9 646.43L113.46 644.1L114.25 640.23L114.25 637.9L113.46 634.03L111.9 631.7L109.54 630.93L107.98 630.93M40.12 281.72L56.4 281.72M40.12 281.72L40.12 274.73L40.9 272.39L41.67 271.62L43.22 270.84L45.55 270.84L47.1 271.62L47.88 272.39L48.65 274.73L48.65 281.72M45.55 265.4L56.4 265.4M50.2 265.4L47.88 264.62L46.32 263.07L45.55 261.52L45.55 259.19M45.55 252.19L46.32 253.75L47.88 255.3L50.2 256.08L51.75 256.08L54.07 255.3L55.62 253.75L56.4 252.19L56.4 249.86L55.62 248.31L54.07 246.75L51.75 245.98L50.2 245.98L47.88 246.75L46.32 248.31L45.55 249.86L45.55 252.19M40.12 240.54L56.4 240.54M47.88 240.54L46.32 238.98L45.55 237.43L45.55 235.1L46.32 233.54L47.88 231.99L50.2 231.21L51.75 231.21L54.07 231.99L55.62 233.54L56.4 235.1L56.4 237.43L55.62 238.98L54.07 240.54M45.55 217.23L56.4 217.23M47.88 217.23L46.32 218.78L45.55 220.34L45.55 222.67L46.32 224.22L47.88 225.77L50.2 226.55L51.75 226.55L54.07 225.77L55.62 224.22L56.4 222.67L56.4 220.34L55.62 218.78L54.07 217.23M40.12 211.01L56.4 211.01M47.88 211.01L46.32 209.46L45.55 207.9L45.55 205.57L46.32 204.02L47.88 202.46L50.2 201.69L51.75 201.69L54.07 202.46L55.62 204.02L56.4 205.57L56.4 207.9L55.62 209.46L54.07 211.01M40.12 197.03L40.9 196.25L40.12 195.47L39.35 196.25L40.12 197.03M45.55 196.25L56.4 196.25M40.12 190.03L56.4 190.03M40.12 184.59L40.9 183.82L40.12 183.04L39.35 183.82L40.12 184.59M45.55 183.82L56.4 183.82M40.12 176.82L53.3 176.82L55.62 176.05L56.4 174.49L56.4 172.94M45.55 179.15L45.55 173.72M45.55 169.83L56.4 165.17M45.55 160.51L56.4 165.17L59.5 166.72L61.05 168.28L61.82 169.83L61.82 170.61M40.12 143.41L56.4 143.41M40.12 143.41L40.12 137.97L40.9 135.64L42.45 134.09L44 133.31L46.32 132.53L50.2 132.53L52.52 133.31L54.07 134.09L55.62 135.64L56.4 137.97L56.4 143.41M50.2 127.87L50.2 118.55L48.65 118.55L47.1 119.33L46.32 120.1L45.55 121.66L45.55 123.99L46.32 125.54L47.88 127.1L50.2 127.87L51.75 127.87L54.07 127.1L55.62 125.54L56.4 123.99L56.4 121.66L55.62 120.1L54.07 118.55M45.55 113.11L56.4 113.11M48.65 113.11L46.32 110.78L45.55 109.22L45.55 106.89L46.32 105.34L48.65 104.56L56.4 104.56M47.88 90.58L46.32 91.35L45.55 93.68L45.55 96.02L46.32 98.35L47.88 99.12L49.42 98.35L50.2 96.79L50.98 92.91L51.75 91.35L53.3 90.58L54.07 90.58L55.62 91.35L56.4 93.68L56.4 96.02L55.62 98.35L54.07 99.12M40.12 85.91L40.9 85.14L40.12 84.36L39.35 85.14L40.12 85.91M45.55 85.14L56.4 85.14M40.12 78.14L53.3 78.14L55.62 77.37L56.4 75.81L56.4 74.26M45.55 80.48L45.55 75.04M45.55 71.15L56.4 66.49M45.55 61.83L56.4 66.49L59.5 68.04L61.05 69.6L61.82 71.15L61.82 71.93M40.12 598.47L56.4 598.47M40.12 598.47L40.12 591.48L40.9 589.14L41.67 588.37L43.22 587.59L45.55 587.59L47.1 588.37L47.88 589.14L48.65 591.48L48.65 598.47M45.55 582.15L56.4 582.15M50.2 582.15L47.88 581.37L46.32 579.82L45.55 578.27L45.55 575.94M45.55 568.94L46.32 570.5L47.88 572.05L50.2 572.83L51.75 572.83L54.07 572.05L55.62 570.5L56.4 568.94L56.4 566.61L55.62 565.06L54.07 563.5L51.75 562.73L50.2 562.73L47.88 563.5L46.32 565.06L45.55 566.61L45.55 568.94M40.12 557.29L56.4 557.29M47.88 557.29L46.32 555.73L45.55 554.18L45.55 551.85L46.32 550.29L47.88 548.74L50.2 547.96L51.75 547.96L54.07 548.74L55.62 550.29L56.4 551.85L56.4 554.18L55.62 555.73L54.07 557.29M45.55 533.98L56.4 533.98M47.88 533.98L46.32 535.53L45.55 537.09L45.55 539.42L46.32 540.97L47.88 542.52L50.2 543.3L51.75 543.3L54.07 542.52L55.62 540.97L56.4 539.42L56.4 537.09L55.62 535.53L54.07 533.98M40.12 527.76L56.4 527.76M47.88 527.76L46.32 526.21L45.55 524.65L45.55 522.32L46.32 520.77L47.88 519.21L50.2 518.44L51.75 518.44L54.07 519.21L55.62 520.77L56.4 522.32L56.4 524.65L55.62 526.21L54.07 527.76M40.12 513.78L40.9 513L40.12 512.22L39.35 513L40.12 513.78M45.55 513L56.4 513M40.12 506.78L56.4 506.78M40.12 501.34L40.9 500.57L40.12 499.79L39.35 500.57L40.12 501.34M45.55 500.57L56.4 500.57M40.12 493.57L53.3 493.57L55.62 492.8L56.4 491.24L56.4 489.69M45.55 495.9L45.55 490.47M45.55 486.58L56.4 481.92M45.55 477.26L56.4 481.92L59.5 483.47L61.05 485.03L61.82 486.58L61.82 487.36M40.12 460.16L56.4 460.16M40.12 460.16L40.12 454.72L40.9 452.39L42.45 450.84L44 450.06L46.32 449.28L50.2 449.28L52.52 450.06L54.07 450.84L55.62 452.39L56.4 454.72L56.4 460.16M50.2 444.62L50.2 435.3L48.65 435.3L47.1 436.08L46.32 436.85L45.55 438.41L45.55 440.74L46.32 442.29L47.88 443.85L50.2 444.62L51.75 444.62L54.07 443.85L55.62 442.29L56.4 440.74L56.4 438.41L55.62 436.85L54.07 435.3M45.55 429.86L56.4 429.86M48.65 429.86L46.32 427.53L45.55 425.97L45.55 423.64L46.32 422.09L48.65 421.31L56.4 421.31M47.88 407.33L46.32 408.1L45.55 410.43L45.55 412.77L46.32 415.1L47.88 415.87L49.42 415.1L50.2 413.54L50.98 409.66L51.75 408.1L53.3 407.33L54.07 407.33L55.62 408.1L56.4 410.43L56.4 412.77L55.62 415.1L54.07 415.87M40.12 402.66L40.9 401.89L40.12 401.11L39.35 401.89L40.12 402.66M45.55 401.89L56.4 401.89M40.12 394.89L53.3 394.89L55.62 394.12L56.4 392.56L56.4 391.01M45.55 397.23L45.55 391.79M45.55 387.9L56.4 383.24M45.55 378.58L56.4 383.24L59.5 384.79L61.05 386.35L61.82 387.9L61.82 388.68M671.06 42.62L664.87 58.9M671.06 42.62L677.24 58.9M667.19 53.48L674.92 53.48M685.74 42.62L684.2 42.62L682.65 43.4L681.88 45.72L681.88 58.9M679.56 48.05L684.97 48.05M691.15 42.62L691.15 55.8L691.93 58.12L693.47 58.9L695.02 58.9M688.84 48.05L694.25 48.05M698.88 52.7L708.16 52.7L708.16 51.15L707.39 49.6L706.62 48.82L705.07 48.05L702.75 48.05L701.2 48.82L699.66 50.38L698.88 52.7L698.88 54.25L699.66 56.57L701.2 58.12L702.75 58.9L705.07 58.9L706.62 58.12L708.16 56.57M713.57 48.05L713.57 58.9M713.57 52.7L714.35 50.38L715.89 48.82L717.44 48.05L719.76 48.05M732.12 48.05L732.12 60.45L731.35 62.77L730.58 63.55L729.03 64.33L726.71 64.33L725.17 63.55M732.12 50.38L730.58 48.82L729.03 48.05L726.71 48.05L725.17 48.82L723.62 50.38L722.85 52.7L722.85 54.25L723.62 56.57L725.17 58.12L726.71 58.9L729.03 58.9L730.58 58.12L732.12 56.57M738.31 42.62L738.31 58.9M747.58 48.05L746.04 48.82L744.49 50.38L743.72 52.7L743.72 54.25L744.49 56.57L746.04 58.12L747.58 58.9L749.9 58.9L751.45 58.12L753 56.57L753.77 54.25L753.77 52.7L753 50.38L751.45 48.82L749.9 48.05L747.58 48.05M758.41 48.05L761.5 58.9M764.59 48.05L761.5 58.9M764.59 48.05L767.68 58.9M770.77 48.05L767.68 58.9M667.19 72.32L667.19 88.6M678.01 72.32L678.01 88.6M667.19 80.07L678.01 80.07M687.29 77.75L685.74 78.52L684.2 80.07L683.43 82.4L683.43 83.95L684.2 86.27L685.74 87.82L687.29 88.6L689.61 88.6L691.15 87.82L692.7 86.27L693.47 83.95L693.47 82.4L692.7 80.07L691.15 78.52L689.61 77.75L687.29 77.75M706.62 80.07L705.84 78.52L703.52 77.75L701.2 77.75L698.88 78.52L698.11 80.07L698.88 81.62L700.43 82.4L704.3 83.17L705.84 83.95L706.62 85.5L706.62 86.27L705.84 87.82L703.52 88.6L701.2 88.6L698.88 87.82L698.11 86.27M712.8 72.32L712.8 85.5L713.57 87.82L715.12 88.6L716.66 88.6M710.48 77.75L715.89 77.75M678.01 105.8L677.24 104.25L675.7 102.7L674.15 101.92L671.06 101.92L669.51 102.7L667.97 104.25L667.19 105.8L666.42 108.12L666.42 112L667.19 114.33L667.97 115.88L669.51 117.42L671.06 118.2L674.15 118.2L675.7 117.42L677.24 115.88L678.01 114.33M686.52 107.35L684.97 108.12L683.43 109.67L682.65 112L682.65 113.55L683.43 115.88L684.97 117.42L686.52 118.2L688.84 118.2L690.38 117.42L691.93 115.88L692.7 113.55L692.7 112L691.93 109.67L690.38 108.12L688.84 107.35L686.52 107.35M698.11 107.35L698.11 118.2M698.11 110.45L700.43 108.12L701.98 107.35L704.3 107.35L705.84 108.12L706.62 110.45L706.62 118.2M706.62 110.45L708.93 108.12L710.48 107.35L712.8 107.35L714.35 108.12L715.12 110.45L715.12 118.2M721.3 101.92L721.3 118.2M721.3 109.67L722.85 108.12L724.39 107.35L726.71 107.35L728.26 108.12L729.81 109.67L730.58 112L730.58 113.55L729.81 115.88L728.26 117.42L726.71 118.2L724.39 118.2L722.85 117.42L721.3 115.88M735.22 101.92L735.99 102.7L736.76 101.92L735.99 101.15L735.22 101.92M735.99 107.35L735.99 118.2M742.17 107.35L742.17 118.2M742.17 110.45L744.49 108.12L746.04 107.35L748.36 107.35L749.9 108.12L750.68 110.45L750.68 118.2M756.09 112L765.36 112L765.36 110.45L764.59 108.9L763.82 108.12L762.27 107.35L759.95 107.35L758.41 108.12L756.86 109.67L756.09 112L756.09 113.55L756.86 115.88L758.41 117.42L759.95 118.2L762.27 118.2L763.82 117.42L765.36 115.88M779.28 101.92L779.28 118.2M779.28 109.67L777.73 108.12L776.19 107.35L773.87 107.35L772.32 108.12L770.77 109.67L770 112L770 113.55L770.77 115.88L772.32 117.42L773.87 118.2L776.19 118.2L777.73 117.42L779.28 115.88" fill="none" stroke="#000" stroke-width="1.75" stroke-linecap="butt" stroke-linejoin="round"/>
<path d="M607.0 53.1H653.3" stroke="#0000ff" stroke-width="2.2" stroke-dasharray="11.4 10.6" fill="none"/>
<path d="M607.0 83H653.3" stroke="#ff0000" stroke-width="2.2" stroke-dasharray="2.4 5.45" fill="none"/>
<path d="M607.0 112.7H653.3" stroke="#00ff00" stroke-width="2.2" fill="none"/>
</svg>
</body></html>
